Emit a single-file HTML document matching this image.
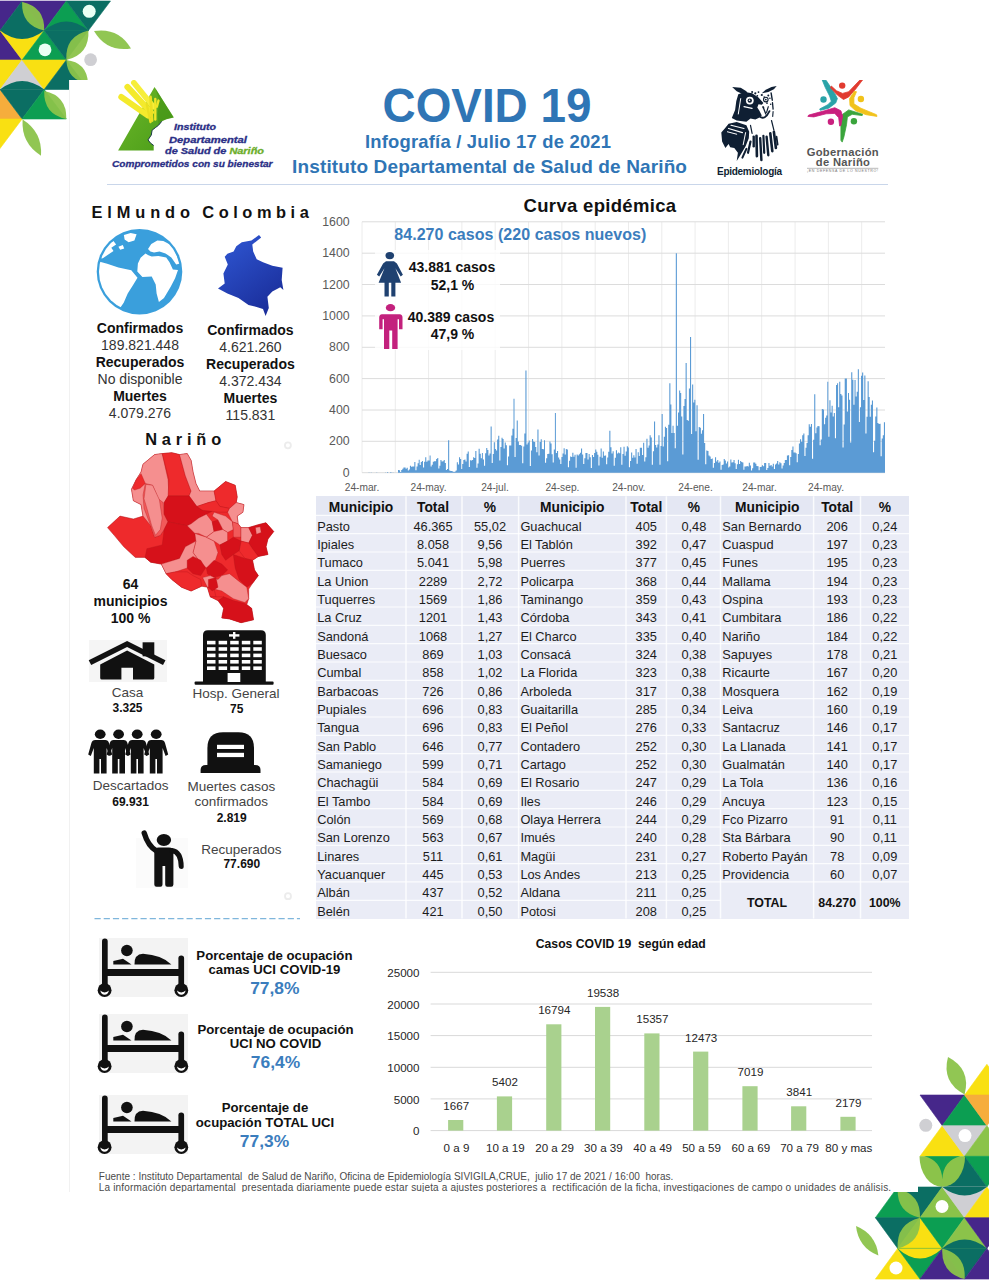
<!DOCTYPE html>
<html lang="es"><head><meta charset="utf-8"><title>COVID 19 - Infografía Nariño</title>
<style>
html,body{margin:0;padding:0}
body{width:989px;height:1280px;position:relative;overflow:hidden;background:#fff;font-family:"Liberation Sans",sans-serif;color:#222}
.deco{position:absolute;left:0;top:0}
.card{position:absolute;left:70px;top:80px;width:848px;height:1112px;background:#fff;overflow:hidden;box-shadow:-1px 0 0 #f1f1f1}
.in{position:absolute;left:-70px;top:-80px;width:989px;height:1280px}
.abs{position:absolute}
.t{position:absolute;white-space:nowrap;line-height:1}

</style></head><body>
<svg class="deco" width="989" height="1280" viewBox="0 0 989 1280">
<polygon points="-22.1,1 22.1,1 0,30.5" fill="#46278a" stroke="#46278a" stroke-width=".6" stroke-linejoin="round"/>
<polygon points="22.1,1 0,30.5 44.2,30.5" fill="#0b6e63" stroke="#0b6e63" stroke-width=".6" stroke-linejoin="round"/>
<polygon points="22.1,1 66.3,1 44.2,30.5" fill="#46278a" stroke="#46278a" stroke-width=".6" stroke-linejoin="round"/>
<polygon points="66.3,1 44.2,30.5 88.4,30.5" fill="#0c9e52" stroke="#0c9e52" stroke-width=".6" stroke-linejoin="round"/>
<polygon points="66.3,1 110.5,1 88.4,30.5" fill="#0b6e63" stroke="#0b6e63" stroke-width=".6" stroke-linejoin="round"/>
<polygon points="0,30.5 -22.1,60 22.1,60" fill="#46278a" stroke="#46278a" stroke-width=".6" stroke-linejoin="round"/>
<polygon points="0,30.5 44.2,30.5 22.1,60" fill="#f9e012" stroke="#f9e012" stroke-width=".6" stroke-linejoin="round"/>
<polygon points="44.2,30.5 22.1,60 66.3,60" fill="#0c9e52" stroke="#0c9e52" stroke-width=".6" stroke-linejoin="round"/>
<polygon points="44.2,30.5 88.4,30.5 66.3,60" fill="#0b6e63" stroke="#0b6e63" stroke-width=".6" stroke-linejoin="round"/>
<polygon points="-22.1,60 22.1,60 0,89.5" fill="#f9e012" stroke="#f9e012" stroke-width=".6" stroke-linejoin="round"/>
<polygon points="22.1,60 0,89.5 44.2,89.5" fill="#cfcfd3" stroke="#cfcfd3" stroke-width=".6" stroke-linejoin="round"/>
<polygon points="22.1,60 66.3,60 44.2,89.5" fill="#f9e012" stroke="#f9e012" stroke-width=".6" stroke-linejoin="round"/>
<polygon points="66.3,60 44.2,89.5 88.4,89.5" fill="#0b6e63" stroke="#0b6e63" stroke-width=".6" stroke-linejoin="round"/>
<polygon points="0,89.5 -22.1,119 22.1,119" fill="#f6ad3c" stroke="#f6ad3c" stroke-width=".6" stroke-linejoin="round"/>
<polygon points="0,89.5 44.2,89.5 22.1,119" fill="#0b6e63" stroke="#0b6e63" stroke-width=".6" stroke-linejoin="round"/>
<polygon points="44.2,89.5 22.1,119 66.3,119" fill="#0c9e52" stroke="#0c9e52" stroke-width=".6" stroke-linejoin="round"/>
<polygon points="-22.1,119 22.1,119 0,148.5" fill="#f9e012" stroke="#f9e012" stroke-width=".6" stroke-linejoin="round"/>
<path d="M0,29.9 L0,30.5 Q22.1,47.5 44.2,30.5 L44.2,29.9Z" fill="#0b6e63"/>
<path d="M44.2,30.5 Q66.3,12.5 88.4,30.5Z" fill="#0b6e63"/>
<path d="M0,89.5 Q22.1,72.5 44.2,89.5Z" fill="#0b6e63"/>
<circle cx="89.2" cy="11.3" r="6.5" fill="#eafff4"/>
<circle cx="45" cy="49.8" r="6.4" fill="#eafff4"/>
<circle cx="90.6" cy="59.7" r="6.4" fill="#cfcfd3"/>
<path d="M22.1,2 Q21.2,25.5 44.2,30.5 Q45.1,7 22.1,2Z" fill="#8bc34a" opacity="0.95"/>
<path d="M66.3,60 Q89.7,54.5 88.4,30.5 Q65,36 66.3,60Z" fill="#8bc34a" opacity="0.95"/>
<path d="M66.3,60 Q67.5,80.6 88,83 Q86.8,62.4 66.3,60Z" fill="#8bc34a" opacity="0.95"/>
<path d="M94,31 Q106.5,52.3 131,48.5 Q118.5,27.2 94,31Z" fill="#8bc34a" opacity="0.95"/>
<path d="M44.2,91 Q43.5,114.3 66.3,119 Q67,95.7 44.2,91Z" fill="#8bc34a" opacity="0.95"/>
<path d="M22.6,119.6 Q21,143.2 41,155.7 Q42.6,132.1 22.6,119.6Z" fill="#8bc34a" opacity="0.95"/>
<polygon points="986.9,1064.3 964.6,1095 1009.2,1095" fill="#f9e012" stroke="#f9e012" stroke-width=".6" stroke-linejoin="round"/>
<polygon points="920,1095 964.6,1095 942.3,1125.7" fill="#46278a" stroke="#46278a" stroke-width=".6" stroke-linejoin="round"/>
<polygon points="964.6,1095 942.3,1125.7 986.9,1125.7" fill="#0c9e52" stroke="#0c9e52" stroke-width=".6" stroke-linejoin="round"/>
<polygon points="964.6,1095 1009.2,1095 986.9,1125.7" fill="#f6ad3c" stroke="#f6ad3c" stroke-width=".6" stroke-linejoin="round"/>
<polygon points="942.3,1125.7 920,1156.3 964.6,1156.3" fill="#f9e012" stroke="#f9e012" stroke-width=".6" stroke-linejoin="round"/>
<polygon points="942.3,1125.7 986.9,1125.7 964.6,1156.3" fill="#cfcfd3" stroke="#cfcfd3" stroke-width=".6" stroke-linejoin="round"/>
<polygon points="986.9,1125.7 964.6,1156.3 1009.2,1156.3" fill="#8bc34a" stroke="#8bc34a" stroke-width=".6" stroke-linejoin="round"/>
<polygon points="964.6,1156.3 1009.2,1156.3 986.9,1187" fill="#0c9e52" stroke="#0c9e52" stroke-width=".6" stroke-linejoin="round"/>
<polygon points="964.6,1156.3 942.3,1187 986.9,1187" fill="#0b6e63" stroke="#0b6e63" stroke-width=".6" stroke-linejoin="round"/>
<path d="M942.3,1187 Q964.6,1205 986.9,1187Z" fill="#0b6e63"/>
<path d="M919.5,1156.3 A22.8,30.7 0 0 0 965.1,1156.3Z" fill="#8bc34a"/>
<path d="M924.3,1156.3 Q941.3,1160.3 942.3,1179.3 Q943.3,1160.3 960.3,1156.3Z" fill="#0c9e52"/>
<polygon points="897.7,1187 875.4,1217.7 920,1217.7" fill="#0c9e52" stroke="#0c9e52" stroke-width=".6" stroke-linejoin="round"/>
<polygon points="897.7,1187 942.3,1187 920,1217.7" fill="#0b6e63" stroke="#0b6e63" stroke-width=".6" stroke-linejoin="round"/>
<polygon points="942.3,1187 920,1217.7 964.6,1217.7" fill="#8bc34a" stroke="#8bc34a" stroke-width=".6" stroke-linejoin="round"/>
<polygon points="942.3,1187 986.9,1187 964.6,1217.7" fill="#cfcfd3" stroke="#cfcfd3" stroke-width=".6" stroke-linejoin="round"/>
<polygon points="986.9,1187 964.6,1217.7 1009.2,1217.7" fill="#f9e012" stroke="#f9e012" stroke-width=".6" stroke-linejoin="round"/>
<path d="M942.3,1187 Q964.6,1204 986.9,1187Z" fill="#0b6e63"/>
<polygon points="875.4,1217.7 920,1217.7 897.7,1248.4" fill="#0b6e63" stroke="#0b6e63" stroke-width=".6" stroke-linejoin="round"/>
<polygon points="920,1217.7 897.7,1248.4 942.3,1248.4" fill="#f9e012" stroke="#f9e012" stroke-width=".6" stroke-linejoin="round"/>
<polygon points="920,1217.7 964.6,1217.7 942.3,1248.4" fill="#0c9e52" stroke="#0c9e52" stroke-width=".6" stroke-linejoin="round"/>
<polygon points="964.6,1217.7 942.3,1248.4 986.9,1248.4" fill="#8bc34a" stroke="#8bc34a" stroke-width=".6" stroke-linejoin="round"/>
<polygon points="964.6,1217.7 1009.2,1217.7 986.9,1248.4" fill="#46278a" stroke="#46278a" stroke-width=".6" stroke-linejoin="round"/>
<polygon points="897.7,1248.4 875.4,1279.1 920,1279.1" fill="#f9e012" stroke="#f9e012" stroke-width=".6" stroke-linejoin="round"/>
<polygon points="897.7,1248.4 942.3,1248.4 920,1279.1" fill="#0c9e52" stroke="#0c9e52" stroke-width=".6" stroke-linejoin="round"/>
<polygon points="942.3,1248.4 920,1279.1 964.6,1279.1" fill="#46278a" stroke="#46278a" stroke-width=".6" stroke-linejoin="round"/>
<polygon points="942.3,1248.4 986.9,1248.4 964.6,1279.1" fill="#0b6e63" stroke="#0b6e63" stroke-width=".6" stroke-linejoin="round"/>
<polygon points="986.9,1248.4 964.6,1279.1 1009.2,1279.1" fill="#46278a" stroke="#46278a" stroke-width=".6" stroke-linejoin="round"/>
<path d="M897.7,1248.4 Q920,1268.4 942.3,1248.4Z" fill="#f9e012"/>
<path d="M942.3,1248.4 Q964.6,1230.4 986.9,1248.4Z" fill="#0b6e63"/>
<circle cx="965" cy="1135.6" r="6.5" fill="#fff"/>
<circle cx="942" cy="1206.5" r="6.5" fill="#fff"/>
<circle cx="896" cy="1268" r="6.5" fill="#fff"/>
<circle cx="925.8" cy="1125.3" r="6.5" fill="#cfcfd3"/>
<path d="M964.6,1094.4 Q971.3,1069.1 948,1057 Q941.3,1082.3 964.6,1094.4Z" fill="#8bc34a" opacity="0.95"/>
<path d="M856,1226 Q858.3,1247.5 878.4,1255.6 Q876.1,1234.1 856,1226Z" fill="#8bc34a" opacity="0.95"/>
<path d="M897.7,1189 Q896.8,1212.7 920,1217.7 Q920.9,1194 897.7,1189Z" fill="#8bc34a" opacity="0.95"/>
<path d="M920,1217.7 Q896,1223.7 897.7,1248.4 Q921.7,1242.4 920,1217.7Z" fill="#8bc34a" opacity="0.95"/>
<path d="M942.3,1248.4 Q940.6,1273.1 964.6,1279.1 Q966.3,1254.4 942.3,1248.4Z" fill="#8bc34a" opacity="0.95"/>
</svg>
<div class="card"><div class="in">
<!-- header -->
<svg class="abs" style="left:0;top:0" width="300" height="180" viewBox="0 0 300 180">
<defs><linearGradient id="gT" x1="0" y1="0" x2="1" y2="1"><stop offset="0" stop-color="#6db82a"/><stop offset="1" stop-color="#4a9c18"/></linearGradient></defs>
<polygon points="154.5,86.9 173.9,117.6 166.6,119.2 161.8,121.3 158.5,125.3 155.3,127.7 152.1,130.2 151.3,135 148,139.9 150.5,143.1 153.7,145.5 153.7,150.4 118.1,150.4" fill="url(#gT)"/>
<polygon points="155.3,88.1 173.1,117.2 166.6,118.8 161.8,120.9 158.5,124.9 157.7,114 159.4,101" fill="#3f8f14" opacity=".55"/>
<polyline points="161.8,121.3 158.5,125.3 155.3,127.7 152.1,130.2 151.3,135 148,139.9 150.5,143.1 153.7,145.5" fill="none" stroke="#1d3a4a" stroke-width="1"/>
<line x1="121.3" y1="97" x2="148" y2="115.6" stroke="#f4ea2c" stroke-width="6" stroke-linecap="round"/>
<line x1="127.4" y1="86.9" x2="150.9" y2="112.4" stroke="#f4ea2c" stroke-width="6" stroke-linecap="round"/>
<line x1="133.9" y1="82.8" x2="153.3" y2="106.7" stroke="#f6ee3a" stroke-width="5.7" stroke-linecap="round"/>
<line x1="150.5" y1="97" x2="152.1" y2="120.5" stroke="#ebe022" stroke-width="2.8" stroke-linecap="round"/>
<line x1="146.8" y1="104.3" x2="150.5" y2="122.1" stroke="#ebe022" stroke-width="2.4" stroke-linecap="round"/>
<line x1="155.3" y1="99" x2="155.3" y2="119.6" stroke="#f0e628" stroke-width="2.4" stroke-linecap="round"/>
<line x1="158.5" y1="100.6" x2="156.8" y2="106.7" stroke="#f0e628" stroke-width="2.4" stroke-linecap="round"/>
</svg>
<div class="t" style="left:174px;top:128px;font-size:8.2px;transform:translate(0,-50%) scaleX(1.300);font-weight:700;color:#2b2f86;font-style:italic;-webkit-text-stroke:.3px #2b2f86;transform-origin:0 50%;">Instituto</div>
<div class="t" style="left:169px;top:139.5px;font-size:8.6px;transform:translate(0,-50%) scaleX(1.306);font-weight:700;color:#2b2f86;font-style:italic;-webkit-text-stroke:.3px #2b2f86;transform-origin:0 50%;">Departamental</div>
<div class="t" style="left:165px;top:150.7px;font-size:8.6px;transform:translate(0,-50%) scaleX(1.272);font-weight:700;color:#2b2f86;font-style:italic;-webkit-text-stroke:.3px #2b2f86;transform-origin:0 50%;">de Salud de <span style="color:#6cae2c;-webkit-text-stroke-color:#6cae2c">Nariño</span></div>
<div class="t" style="left:111.5px;top:163.5px;font-size:9.6px;transform:translate(0,-50%) scaleX(1.053);font-weight:700;color:#2b2f86;font-style:italic;-webkit-text-stroke:.3px #2b2f86;transform-origin:0 50%;">Comprometidos con su bienestar</div>
<svg class="abs" style="left:0;top:0" width="989" height="190" viewBox="0 0 989 190">
<g fill="#0f1f33">
<polygon points="732.2,87.1 740.7,87.7 746.4,91.3 748.8,95.4 742.4,93.9 736.7,91.3"/>
<polygon points="776.7,86.1 771.5,86.9 765.8,89.7 761.8,93.3 768.3,92.1 773.9,89.3"/>
<polygon points="738.3,94.2 744.8,92.1 752.1,93.3 758.5,97.4 763.4,103.1 761.8,104.7 758.5,104.3 757.3,107.5 759.4,110.7 761.8,115.6 758.5,118 755.3,119.6 750.5,118.4 746.4,121.7 736.7,120.5 731.8,118 735.1,109.9 736.3,101"/>
<polygon points="721.3,132.6 725.4,127.7 728.6,123.7 736.7,122.1 746.4,125.3 749.2,131.8 748.8,138.3 745.6,146.3 740.7,154.4 736.7,160.9 737.9,152.8 734.3,148 730.2,147.2 728.6,143.9 725.4,148 722.1,141.5"/>
<circle cx="752.1" cy="92.1" r="1.0"/>
<circle cx="755.3" cy="93.3" r="1.1"/>
<circle cx="758.5" cy="92.1" r="0.9"/>
<circle cx="761.8" cy="95" r="1.1"/>
<circle cx="757.3" cy="95.8" r="0.9"/>
<circle cx="764.2" cy="97" r="0.8"/>
<circle cx="768.3" cy="95.4" r="1.0"/>
<circle cx="769.9" cy="98.2" r="0.8"/>
<circle cx="767" cy="103.1" r="0.9"/>
<circle cx="770.7" cy="104.3" r="0.8"/>
<circle cx="763.4" cy="107.5" r="0.9"/>
</g>
<circle cx="749.8" cy="100.6" r="3.9" fill="#fff"/>
<circle cx="749.8" cy="100.6" r="2.2" fill="#0f1f33"/>
<circle cx="749.5" cy="100.2" r="0.8" fill="#fff"/>
<g stroke="#fff" stroke-linecap="round" fill="none">
<line x1="740.7" y1="98.6" x2="738.3" y2="114" stroke-width="1.0"/>
<line x1="744" y1="106.7" x2="752.1" y2="108.3" stroke-width="1.2"/>
<line x1="728.6" y1="128.5" x2="742.4" y2="132.6" stroke-width="1.3"/>
<line x1="727.4" y1="131.8" x2="736.7" y2="134.2" stroke-width="1.0"/>
<line x1="731" y1="125.3" x2="744" y2="128.5" stroke-width="1.1"/>
<line x1="745.6" y1="132.6" x2="743.2" y2="144.7" stroke-width="1.0"/>
</g>
<circle cx="765.8" cy="99.6" r="2.3" fill="none" stroke="#0f1f33" stroke-width="1.1"/>
<circle cx="765.8" cy="99.6" r="0.9" fill="#0f1f33"/>
<path d="M759.5,116.6 Q765,120.5 769.5,111.1" fill="none" stroke="#0f1f33" stroke-width="1.8" stroke-linecap="round"/>
<g stroke="#0f1f33" stroke-linecap="round" fill="none">
<line x1="771.1" y1="92.9" x2="772.3" y2="100.2" stroke-width="1.4"/>
<line x1="772.5" y1="102.7" x2="773.1" y2="109.1" stroke-width="1.3"/>
<line x1="773.1" y1="111.6" x2="772.7" y2="116.4" stroke-width="1.1"/>
<line x1="768.3" y1="106.7" x2="766.6" y2="112.4" stroke-width="1.2"/>
<line x1="763" y1="106.7" x2="765.8" y2="114" stroke-width="1.3"/>
<line x1="753.7" y1="136.6" x2="753.7" y2="146.3" stroke-width="2.4"/>
<line x1="756.5" y1="135.8" x2="756.9" y2="156.1" stroke-width="2.6"/>
<line x1="760.2" y1="138.3" x2="761.4" y2="160.1" stroke-width="2.4"/>
<line x1="763.4" y1="135.8" x2="764.2" y2="152.8" stroke-width="2.2"/>
<line x1="766.6" y1="136.6" x2="768.3" y2="155.2" stroke-width="2.4"/>
<line x1="770.3" y1="133.4" x2="772.3" y2="151.2" stroke-width="2.6"/>
<line x1="773.9" y1="131.8" x2="775.9" y2="148" stroke-width="2.6"/>
<line x1="776.5" y1="136.6" x2="777.6" y2="144.7" stroke-width="1.8"/>
<line x1="750.5" y1="141.5" x2="748" y2="152.8" stroke-width="2.2"/>
<line x1="746.4" y1="148.8" x2="742.4" y2="157.7" stroke-width="2.0"/>
<line x1="771.5" y1="120.5" x2="773.9" y2="130.2" stroke-width="1.2"/>
<line x1="750.5" y1="125.3" x2="752.1" y2="133.4" stroke-width="1.2"/>
</g></svg>
<div class="t" style="left:749.4px;top:171.5px;font-size:10px;transform:translate(-50%,-50%);font-weight:700;color:#0f1f33;letter-spacing:-0.28px;">Epidemiología</div>
<svg class="abs" style="left:0;top:0" width="989" height="190" viewBox="0 0 989 190">
<polygon points="822.2,79.9 826.1,80.3 834.8,93.4 837.4,98.6 835.7,103 828.7,108.2 820.4,110.3 819.6,109 827.8,104.7 831.3,101.2 829.6,96 825.2,87.3" fill="#2aa3a8" stroke="#2aa3a8" stroke-width="0.8" stroke-linejoin="round"/>
<polygon points="862.6,79.9 860,79.9 848.7,91.7 842.6,93.4 836.5,90.8 831.3,86 830.4,87.7 837.4,95.1 843.5,99.5 848.7,96.9 855.7,89" fill="#e13b30" stroke="#e13b30" stroke-width="0.8" stroke-linejoin="round"/>
<polygon points="877,116.4 876.5,114.7 860.9,108.2 853.9,103.8 853.9,97.7 856.5,91.7 854.3,91.2 849.6,98.6 850,105.6 855.7,110.8 866.1,114.7" fill="#f1c21b" stroke="#f1c21b" stroke-width="0.8" stroke-linejoin="round"/>
<polygon points="842.2,142.1 840.9,140.3 840.9,124.7 842.6,114.3 848.7,109.9 862.6,114.3 862.2,115.6 852.2,114.3 847.4,116.9 846.5,124.7 843.9,136.9" fill="#3aa43c" stroke="#3aa43c" stroke-width="0.8" stroke-linejoin="round"/>
<polygon points="807.8,116.4 808.7,115.1 824.3,110.8 834.8,107.7 840.9,110.8 842.6,116 840.9,125.6 839.6,126 838.7,117.7 834.8,113.4 826.1,113.8 813.9,116.9" fill="#c9207e" stroke="#c9207e" stroke-width="0.8" stroke-linejoin="round"/>
<circle cx="842.2" cy="85.6" r="3.2" fill="#e13b30"/>
<circle cx="860.9" cy="99" r="3.2" fill="#f1c21b"/>
<circle cx="853.9" cy="121.2" r="3.2" fill="#3aa43c"/>
<circle cx="830.9" cy="121.7" r="3.2" fill="#c9207e"/>
<circle cx="823.5" cy="99.5" r="3.2" fill="#2aa3a8"/>
<line x1="807" y1="168.3" x2="878.3" y2="168.3" stroke="#8a8a8a" stroke-width="0.6"/>
</svg>
<div class="t" style="left:842.8px;top:153px;font-size:11.2px;transform:translate(-50%,-50%);font-weight:700;color:#555;letter-spacing:0.3px;">Gobernación</div>
<div class="t" style="left:843px;top:163.2px;font-size:11.2px;transform:translate(-50%,-50%);font-weight:700;color:#555;letter-spacing:0.32px;">de Nariño</div>
<div class="t" style="left:842.8px;top:171.8px;font-size:3.6px;transform:translate(-50%,-50%);color:#777;letter-spacing:0.63px;">¡EN DEFENSA DE LO NUESTRO!</div>
<div class="t" style="left:487.2px;top:105.5px;font-size:47.8px;transform:translate(-50%,-50%) scaleX(0.959);font-weight:700;color:#2f75b5;">COVID 19</div>
<div class="t" style="left:488.1px;top:142.2px;font-size:18.4px;transform:translate(-50%,-50%);font-weight:700;color:#2f75b5;letter-spacing:0.21px;">Infografía / Julio 17 de 2021</div>
<div class="t" style="left:489.6px;top:166px;font-size:19px;transform:translate(-50%,-50%);font-weight:700;color:#2f75b5;letter-spacing:0.13px;">Instituto Departamental de Salud de Nariño</div>
<div class="abs" style="left:107px;top:183.5px;width:781px;height:1.4px;background:#c9d6ea"></div>
<!-- left -->
<div class="t" style="left:91.5px;top:211.5px;font-size:16.4px;transform:translate(0,-50%);font-weight:700;color:#111;letter-spacing:4.88px;">ElMundo</div>
<div class="t" style="left:202.3px;top:211.5px;font-size:16.4px;transform:translate(0,-50%);font-weight:700;color:#111;letter-spacing:4.55px;">Colombia</div>
<svg class="abs" style="left:0;top:0" width="320" height="330" viewBox="0 0 320 330">
<defs><clipPath id="gc"><circle cx="139.5" cy="271.7" r="40.5"/></clipPath></defs>
<circle cx="139.5" cy="271.7" r="42.8" fill="#3a9fdc"/>
<g clip-path="url(#gc)" fill="#fff">
<polygon points="145.5,253.4 140.6,257.8 137.9,263.4 137.3,271.6 142.4,277 151.7,276.5 155.7,284.5 156.6,293.4 158.9,301.9 164,297.9 170.7,286.7 175.1,278.3 178,270.1 172.9,269.4 169.5,262.3 166.2,257.4 158.4,256 151.7,256.5 148.4,255.2"/>
<polygon points="148,248.9 151.3,244 157.3,240.5 163.3,241.1 170,244.5 174.4,250 176.7,255.6 180.2,263.4 176.2,264.5 171.3,257.4 165.5,253.4 159.5,251.6 154,252.5 150.4,251.6"/>
<polygon points="91.7,260.5 98.8,261.4 107.2,263.8 118.4,267.6 131.3,270.3 137.5,277.8 133.1,285 127.7,293.4 123.7,302.8 120.6,307.2 107.2,309 91.7,293.4"/>
<polygon points="98.8,258.9 103.9,251.1 109,243.6 113.5,241.1 116.1,244.5 111.3,247.8 113.5,251.1 107.2,255.2 102.8,258.3"/>
<polygon points="123.9,235.1 130.6,232.9 136.6,234.2 134.4,240.5 128.6,242.2 124.6,239.6"/>
<polygon points="118.4,246.7 122.8,244.9 124.2,248.5 120.2,249.8"/>
</g></svg>
<svg class="abs" style="left:0;top:0" width="320" height="330" viewBox="0 0 320 330">
<defs><linearGradient id="gC" x1="0" y1="0" x2="0.6" y2="1"><stop offset="0" stop-color="#3059d6"/><stop offset="1" stop-color="#1b2f9c"/></linearGradient></defs>
<polygon points="259,235.1 251.4,240.5 241.8,242.2 236.3,246.3 233.6,251.6 227.4,253.8 224.7,256.7 227.8,264.5 223.4,273.4 224.7,283.4 218,288.5 227.4,293.4 238.5,297.9 248.5,305 257.4,307.2 263,309 265.6,316.1 268.8,307.9 267.4,296.8 272.3,291.6 280.3,287.2 283.4,290.1 281.7,280.1 282.6,267.8 272.3,265.8 263,262.3 256.7,259.2 253.2,251.6 252.3,244.5 261.2,237.4" fill="url(#gC)"/>
</svg>
<div class="t" style="left:140px;top:327.8px;font-size:14px;transform:translate(-50%,-50%);font-weight:700;color:#111;">Confirmados</div>
<div class="t" style="left:140px;top:344.7px;font-size:14px;transform:translate(-50%,-50%);color:#333;">189.821.448</div>
<div class="t" style="left:140px;top:361.9px;font-size:14px;transform:translate(-50%,-50%);font-weight:700;color:#111;">Recuperados</div>
<div class="t" style="left:140px;top:379px;font-size:14px;transform:translate(-50%,-50%);color:#333;">No disponible</div>
<div class="t" style="left:140px;top:396px;font-size:14px;transform:translate(-50%,-50%);font-weight:700;color:#111;">Muertes</div>
<div class="t" style="left:140px;top:413px;font-size:14px;transform:translate(-50%,-50%);color:#333;">4.079.276</div>
<div class="t" style="left:250.4px;top:329.8px;font-size:14px;transform:translate(-50%,-50%);font-weight:700;color:#111;">Confirmados</div>
<div class="t" style="left:250.4px;top:346.7px;font-size:14px;transform:translate(-50%,-50%);color:#333;">4.621.260</div>
<div class="t" style="left:250.4px;top:364px;font-size:14px;transform:translate(-50%,-50%);font-weight:700;color:#111;">Recuperados</div>
<div class="t" style="left:250.4px;top:381.4px;font-size:14px;transform:translate(-50%,-50%);color:#333;">4.372.434</div>
<div class="t" style="left:250.4px;top:397.8px;font-size:14px;transform:translate(-50%,-50%);font-weight:700;color:#111;">Muertes</div>
<div class="t" style="left:250.4px;top:415px;font-size:14px;transform:translate(-50%,-50%);color:#333;">115.831</div>
<div class="t" style="left:145.2px;top:438.5px;font-size:16.4px;transform:translate(0,-50%);font-weight:700;color:#111;letter-spacing:4.82px;">Nariño</div>
<svg class="abs" style="left:0;top:0" width="300" height="640" viewBox="0 0 300 640">
<polygon points="143,464.2 154.6,454.6 162.2,453.6 171.8,452.7 179.5,454.6 187.2,453.6 191.1,460.4 193,471.9 195.9,483.4 199.7,491.1 214.1,491.1 225.6,481.5 235.2,485.3 237.2,496.9 236.2,502.6 243.9,504.6 242.9,512.2 237.2,516.1 238.1,523.8 241,527.6 248.7,527.6 258.3,524.7 266,522.8 273.7,531.5 267.9,539.1 266,546.8 267.9,554.5 258.3,556.4 252.5,560.3 254.5,569.9 258.3,575.6 252.5,583.3 248.7,589.1 248.7,598.7 246.8,604.5 251.6,608.3 253.5,619.8 241,622.7 229.5,618.9 221.8,617.9 223.7,608.3 218,600.6 210.3,596.8 207.4,587.2 201.6,586.2 191.1,591 181.5,587.2 171.8,579.5 166.1,573.7 161.3,564.1 150.7,562.2 145,557.4 135.3,557.4 123.8,546.8 114.2,535.3 107.5,527.6 120,516.1 133.4,519 143,516.1 141.1,504.6 133.4,500.7 131.5,489.2 136.3,479.6 141.1,471.9" fill="#ee2a2c" stroke="#b01016" stroke-width="0.5"/>
<polygon points="143,464.2 154.6,454.6 162.2,453.6 168,479.6 169,495 164.2,502.6 164.2,514.2 168,521.8 164.2,529.5 160.3,535.3 154.6,537.2 150.7,525.7 143,516.1 141.1,504.6 133.4,500.7 131.5,489.2 136.3,479.6 141.1,471.9" fill="#f58f8f" stroke="#b3131a" stroke-width="0.35"/>
<polygon points="132.5,488.2 136.3,479.6 141.1,473.8 145.3,483.4 140.1,488.2 134.4,490.1" fill="#ee2a2c" stroke="#b3131a" stroke-width="0.35"/>
<polygon points="145.3,483.4 152.6,485.3 158.4,498.8 163.2,502.6 164.2,514.2 168,521.8 164.2,529.5 160.3,535.3 154.6,537.2 150.7,525.7 144,508.4 143,495" fill="#f25a5a" stroke="#b3131a" stroke-width="0.35"/>
<polygon points="145.9,484.4 152.6,485.3 159.4,499.8 162.2,518 160.3,529.5 155.5,535.3 151.7,525.7 146.9,508.4 144,498.8" fill="#f58f8f" stroke="#b3131a" stroke-width="0.35"/>
<polygon points="162.2,453.6 171.8,452.7 179.5,454.6 185.3,475.7 191.1,491.1 189.1,495.9 168,495.9 169,479.6" fill="#ee2a2c" stroke="#b3131a" stroke-width="0.35"/>
<polygon points="179.5,454.6 187.2,453.6 191.1,460.4 193,471.9 195.9,483.4 199.7,491.1 214.1,491.1 216,500.7 208.4,502.6 196.8,506.5 189.1,495.9 191.1,491.1 185.3,475.7" fill="#f58f8f" stroke="#b3131a" stroke-width="0.35"/>
<polygon points="214.1,491.1 225.6,481.5 235.2,485.3 237.2,496.9 236.2,502.6 229.5,508.4 219.9,506.5 216,500.7" fill="#ee2a2c" stroke="#b3131a" stroke-width="0.35"/>
<polygon points="164.2,502.6 168,495.9 189.1,495.9 196.8,506.5 202.6,510.3 212.2,511.3 198.7,518 191.1,523.8 187.2,525.7 168,521.8 164.2,514.2" fill="#d6111a" stroke="#b3131a" stroke-width="0.35"/>
<polygon points="168,521.8 187.2,525.7 194.9,533.4 195.9,541.1 185.3,546.8 179.5,558.4 161.3,564.1 150.7,562.2 145,557.4 146.9,548.7 162.2,544.9 164.2,529.5" fill="#d6111a" stroke="#b3131a" stroke-width="0.35"/>
<polygon points="196.8,506.5 208.4,502.6 216,500.7 219.9,506.5 229.5,508.4 227.6,512.2 218,512.2 212.2,511.3 202.6,510.3" fill="#ee2a2c" stroke="#b3131a" stroke-width="0.35"/>
<polygon points="229.5,508.4 236.2,502.6 243.9,504.6 242.9,512.2 237.2,516.1 238.1,523.8 232.4,521.8 227.6,512.2" fill="#f58f8f" stroke="#b3131a" stroke-width="0.35"/>
<polygon points="191.1,523.8 198.7,518 206.4,514.2 212.2,521.8 214.1,531.5 206.4,537.2 198.7,533.4 194.9,533.4 187.2,525.7" fill="#f58f8f" stroke="#b3131a" stroke-width="0.35"/>
<polygon points="212.2,521.8 218,519.9 222.8,529.5 218,532.4 214.1,531.5" fill="#d6111a" stroke="#b3131a" stroke-width="0.35"/>
<polygon points="214.1,512.2 225.6,516.1 232.4,521.8 233.3,529.5 227.6,532.4 222.8,529.5 218,519.9 212.2,516.1" fill="#f58f8f" stroke="#b3131a" stroke-width="0.35"/>
<polygon points="232.4,521.8 238.1,523.8 241,527.6 241,537.2 233.3,537.2 233.3,529.5" fill="#f25a5a" stroke="#b3131a" stroke-width="0.35"/>
<polygon points="195.9,541.1 194.9,533.4 206.4,537.2 214.1,541.1 218,552.6 214.1,564.1 206.4,568 198.7,560.3 193,552.6" fill="#f58f8f" stroke="#b3131a" stroke-width="0.35"/>
<polygon points="214.1,531.5 222.8,529.5 227.6,532.4 227.6,541.1 219.9,544.9 214.1,541.1 206.4,537.2" fill="#f58f8f" stroke="#b3131a" stroke-width="0.35"/>
<polygon points="241,527.6 248.7,527.6 252.5,535.3 248.7,543 241,541.1 241,537.2" fill="#f58f8f" stroke="#b3131a" stroke-width="0.35"/>
<polygon points="248.7,527.6 258.3,524.7 266,522.8 273.7,531.5 267.9,539.1 266,546.8 267.9,554.5 258.3,556.4 252.5,548.7 248.7,543 252.5,535.3" fill="#d6111a" stroke="#b3131a" stroke-width="0.35"/>
<polygon points="255.4,527.6 260.2,526.7 261.2,532.4 256.4,534.3" fill="#f58f8f" stroke="#b3131a" stroke-width="0.35"/>
<polygon points="241,541.1 248.7,543 252.5,548.7 258.3,556.4 252.5,560.3 244.9,558.4 239.1,550.7" fill="#ee2a2c" stroke="#b3131a" stroke-width="0.35"/>
<polygon points="161.3,564.1 179.5,558.4 185.3,546.8 195.9,541.1 193,552.6 198.7,560.3 187.2,568 175.7,571.8 166.1,573.7" fill="#f58f8f" stroke="#b3131a" stroke-width="0.35"/>
<polygon points="187.2,560.3 193,556.4 200.7,560.3 205.5,568 200.7,575.6 193,573.7 187.2,568" fill="#d6111a" stroke="#b3131a" stroke-width="0.35"/>
<polygon points="166.1,573.7 175.7,571.8 187.2,571.8 193,575.6 200.7,579.5 201.6,586.2 191.1,591 181.5,587.2 171.8,579.5" fill="#ee2a2c" stroke="#b3131a" stroke-width="0.35"/>
<polygon points="219.9,544.9 227.6,541.1 233.3,537.2 241,541.1 239.1,550.7 233.3,554.5 225.6,560.3 221.8,554.5" fill="#d6111a" stroke="#b3131a" stroke-width="0.35"/>
<polygon points="233.3,554.5 244.9,558.4 252.5,560.3 254.5,569.9 258.3,575.6 252.5,583.3 246.8,587.2 239.1,579.5 235.2,568" fill="#d6111a" stroke="#b3131a" stroke-width="0.35"/>
<polygon points="206.4,568 214.1,560.3 221.8,564.1 227.6,569.9 221.8,575.6 212.2,577.6 207.4,573.7" fill="#d6111a" stroke="#b3131a" stroke-width="0.35"/>
<polygon points="202.6,577.6 210.3,575.6 218,579.5 221.8,575.6 229.5,573.7 239.1,581.4 246.8,587.2 248.7,598.7 244.9,602.5 233.3,598.7 221.8,591 214.1,589.1 207.4,587.2" fill="#f58f8f" stroke="#b3131a" stroke-width="0.35"/>
<polygon points="207.4,587.2 214.1,589.1 216,596.8 210.3,596.8" fill="#ee2a2c" stroke="#b3131a" stroke-width="0.35"/>
<polygon points="208.4,579.5 216,577.6 218,587.2 212.2,591 208.4,587.2" fill="#d6111a" stroke="#b3131a" stroke-width="0.35"/>
<polygon points="218,600.6 223.7,596.8 233.3,600.6 244.9,603.5 251.6,608.3 253.5,619.8 241,622.7 229.5,618.9 221.8,617.9 223.7,608.3" fill="#d6111a" stroke="#b3131a" stroke-width="0.35"/>
<polygon points="210.3,596.8 216,596.8 223.7,596.8 218,600.6" fill="#ee2a2c" stroke="#b3131a" stroke-width="0.35"/>
</svg>
<div class="t" style="left:130.5px;top:584px;font-size:14px;transform:translate(-50%,-50%);font-weight:700;color:#111;">64</div>
<div class="t" style="left:130.5px;top:600.7px;font-size:14px;transform:translate(-50%,-50%);font-weight:700;color:#111;">municipios</div>
<div class="t" style="left:130.5px;top:617.7px;font-size:14px;transform:translate(-50%,-50%);font-weight:700;color:#111;">100 %</div>
<div class="abs" style="left:88.5px;top:640px;width:78.5px;height:41.6px;background:#f5f5f5"></div>
<svg class="abs" style="left:0;top:620px" width="300" height="80" viewBox="0 620 300 80">
<g fill="#111">
<rect x="142.6" y="642.3" width="11.7" height="14"/>
<polygon points="127.1,641 165.5,660.2 163,665 127.1,647 91.2,665 88.7,660.2"/>
<path d="M127.1,650.6 L154.3,664.4 L154.3,678 Q154.3,679.6 152.7,679.6 L133,679.6 L133,667.8 L121.4,667.8 L121.4,679.6 L101.8,679.6 Q100.2,679.6 100.2,678 L100.2,664.4Z"/>
</g></svg>
<svg class="abs" style="left:0;top:620px" width="300" height="80" viewBox="0 620 300 80">
<path d="M203,682 L203,635 Q203,630.2 207.8,630.2 L261,630.2 Q265.8,630.2 265.8,635 L265.8,682Z" fill="#111"/>
<rect x="194.6" y="681.4" width="79" height="3.4" rx="1" fill="#111"/>
<g fill="#fff">
<rect x="229" y="634.2" width="10.4" height="2.4"/><rect x="233" y="632" width="2.4" height="6.8"/>
<rect x="207" y="640.8" width="8.5" height="3.6"/>
<rect x="207" y="647.2" width="8.5" height="3.6"/>
<rect x="207" y="653.6" width="8.5" height="3.6"/>
<rect x="207" y="660" width="8.5" height="3.6"/>
<rect x="207" y="666.4" width="8.5" height="3.6"/>
<rect x="218.6" y="640.8" width="8.5" height="3.6"/>
<rect x="218.6" y="647.2" width="8.5" height="3.6"/>
<rect x="218.6" y="653.6" width="8.5" height="3.6"/>
<rect x="218.6" y="660" width="8.5" height="3.6"/>
<rect x="218.6" y="666.4" width="8.5" height="3.6"/>
<rect x="230.2" y="640.8" width="8.5" height="3.6"/>
<rect x="230.2" y="647.2" width="8.5" height="3.6"/>
<rect x="230.2" y="653.6" width="8.5" height="3.6"/>
<rect x="230.2" y="660" width="8.5" height="3.6"/>
<rect x="230.2" y="666.4" width="8.5" height="3.6"/>
<rect x="241.8" y="640.8" width="8.5" height="3.6"/>
<rect x="241.8" y="647.2" width="8.5" height="3.6"/>
<rect x="241.8" y="653.6" width="8.5" height="3.6"/>
<rect x="241.8" y="660" width="8.5" height="3.6"/>
<rect x="241.8" y="666.4" width="8.5" height="3.6"/>
<rect x="253.3" y="640.8" width="8.5" height="3.6"/>
<rect x="253.3" y="647.2" width="8.5" height="3.6"/>
<rect x="253.3" y="653.6" width="8.5" height="3.6"/>
<rect x="253.3" y="660" width="8.5" height="3.6"/>
<rect x="253.3" y="666.4" width="8.5" height="3.6"/>
<rect x="227.6" y="673" width="12.7" height="9"/>
</g></svg>
<div class="t" style="left:127.5px;top:692.9px;font-size:13.5px;transform:translate(-50%,-50%);color:#444;">Casa</div>
<div class="t" style="left:127.5px;top:708px;font-size:12px;transform:translate(-50%,-50%);font-weight:700;color:#111;">3.325</div>
<div class="t" style="left:236px;top:694px;font-size:13.5px;transform:translate(-50%,-50%);color:#444;">Hosp. General</div>
<div class="t" style="left:236.7px;top:709.3px;font-size:12px;transform:translate(-50%,-50%);font-weight:700;color:#111;">75</div>
<svg class="abs" style="left:0;top:720px" width="300" height="180" viewBox="0 720 300 180">
<g fill="#111">
<ellipse cx="100.2" cy="734.3" rx="5.4" ry="4.7"/>
<path d="M95.2,739.9 L105.2,739.9 Q108.2,739.9 109,742.9 L112.2,754.4 L109.6,755.9 L106.6,747.9 L106.6,773.4 L101,773.4 L101,758.9 L99.4,758.9 L99.4,773.4 L93.8,773.4 L93.8,747.9 L90.8,755.9 L88.2,754.4 L91.4,742.9 Q92.2,739.9 95.2,739.9Z"/>
<ellipse cx="118.6" cy="734.3" rx="5.4" ry="4.7"/>
<path d="M113.6,739.9 L123.6,739.9 Q126.6,739.9 127.4,742.9 L130.6,754.4 L128,755.9 L125,747.9 L125,773.4 L119.4,773.4 L119.4,758.9 L117.8,758.9 L117.8,773.4 L112.2,773.4 L112.2,747.9 L109.2,755.9 L106.6,754.4 L109.8,742.9 Q110.6,739.9 113.6,739.9Z"/>
<ellipse cx="137.2" cy="734.3" rx="5.4" ry="4.7"/>
<path d="M132.2,739.9 L142.2,739.9 Q145.2,739.9 146,742.9 L149.2,754.4 L146.6,755.9 L143.6,747.9 L143.6,773.4 L138,773.4 L138,758.9 L136.4,758.9 L136.4,773.4 L130.8,773.4 L130.8,747.9 L127.8,755.9 L125.2,754.4 L128.4,742.9 Q129.2,739.9 132.2,739.9Z"/>
<ellipse cx="156.2" cy="734.3" rx="5.4" ry="4.7"/>
<path d="M151.2,739.9 L161.2,739.9 Q164.2,739.9 165,742.9 L168.2,754.4 L165.6,755.9 L162.6,747.9 L162.6,773.4 L157,773.4 L157,758.9 L155.4,758.9 L155.4,773.4 L149.8,773.4 L149.8,747.9 L146.8,755.9 L144.2,754.4 L147.4,742.9 Q148.2,739.9 151.2,739.9Z"/>
</g></svg>
<svg class="abs" style="left:0;top:720px" width="300" height="180" viewBox="0 720 300 180">
<path d="M207.4,766 L207.4,748 Q207.4,732.3 223,732.3 L238.4,732.3 Q254,732.3 254,748 L254,766Z" fill="#111"/>
<path d="M200.6,773 L200.6,770 Q200.6,765 206,765 L255,765 Q260.5,765 260.5,770 L260.5,773Z" fill="#111"/>
<rect x="217" y="744.8" width="27" height="4.2" fill="#fff"/><rect x="217" y="752.8" width="27" height="4.3" fill="#fff"/>
</svg>
<div class="t" style="left:130.6px;top:786.4px;font-size:13.5px;transform:translate(-50%,-50%);color:#444;">Descartados</div>
<div class="t" style="left:130.6px;top:801.5px;font-size:12px;transform:translate(-50%,-50%);font-weight:700;color:#111;">69.931</div>
<div class="t" style="left:231.3px;top:787px;font-size:13.5px;transform:translate(-50%,-50%);color:#444;">Muertes casos</div>
<div class="t" style="left:231.3px;top:802.3px;font-size:13.5px;transform:translate(-50%,-50%);color:#444;">confirmados</div>
<div class="t" style="left:231.7px;top:818px;font-size:12px;transform:translate(-50%,-50%);font-weight:700;color:#111;">2.819</div>
<div class="abs" style="left:136px;top:838px;width:52px;height:50px;background:#fbfbfb"></div>
<svg class="abs" style="left:0;top:720px" width="300" height="180" viewBox="0 720 300 180">
<g fill="#111">
<ellipse cx="163.9" cy="840" rx="7.2" ry="6"/>
<path d="M154.3,852 Q154.3,847.6 158.6,847.6 L169,847.6 Q173.4,847.6 173.4,852 L173.4,884.5 Q173.4,886.7 171.2,886.7 L167.2,886.7 Q165.2,886.7 165.2,884.5 L165.2,866 L162.5,866 L162.5,884.5 Q162.5,886.7 160.5,886.7 L156.5,886.7 Q154.3,886.7 154.3,884.5Z"/>
</g>
<path d="M156.5,851 Q148,846 144.2,833" stroke="#111" stroke-width="5.4" stroke-linecap="round" fill="none"/>
<path d="M172,850.5 Q181,852 181.2,866.5" stroke="#111" stroke-width="5" stroke-linecap="round" fill="none"/>
</svg>
<div class="t" style="left:241.4px;top:849.6px;font-size:13.5px;transform:translate(-50%,-50%);color:#444;">Recuperados</div>
<div class="t" style="left:241.8px;top:864px;font-size:12px;transform:translate(-50%,-50%);font-weight:700;color:#111;">77.690</div>
<svg class="abs" style="left:0;top:910px" width="320" height="16" viewBox="0 910 320 16"><line x1="94.5" y1="918.6" x2="300" y2="918.6" stroke="#7fb6dc" stroke-width="1.4" stroke-dasharray="6.2 3"/></svg>
<svg class="abs" style="left:270px;top:430px" width="40" height="480" viewBox="270 430 40 480"><circle cx="287.9" cy="445.3" r="3" fill="none" stroke="#ececec" stroke-width="1.8"/><circle cx="288" cy="896.2" r="3" fill="none" stroke="#ececec" stroke-width="1.8"/></svg>
<div class="abs" style="left:98.6px;top:937.7px;width:89.7px;height:59.5px;background:#f3f3f3"></div>
<svg class="abs" style="left:0;top:930px" width="300" height="75" viewBox="0 930 300 75">
<g fill="#111">
<rect x="102" y="938.6" width="5.7" height="49" rx="2.8"/>
<rect x="178.4" y="955.6" width="5.7" height="32" rx="2.8"/>
<rect x="104" y="969" width="78" height="7"/>
<circle cx="126.9" cy="950.5" r="5.8"/>
<polygon points="113.3,961 123,958.8 131.5,964.6 113.3,964.6"/>
<path d="M134.5,964.6 Q134,954.2 143,953.8 Q162,955 171.4,964.6Z"/>
</g>
<circle cx="104.6" cy="990.2" r="6.9" fill="#111"/>
<path d="M100.39999999999999,990.6 A4.2,4.2 0 0 0 108.8,990.6 A4.6,3 0 0 1 100.39999999999999,990.6Z" fill="#fff"/>
<circle cx="181.3" cy="990.2" r="6.9" fill="#111"/>
<path d="M177.10000000000002,990.6 A4.2,4.2 0 0 0 185.5,990.6 A4.6,3 0 0 1 177.10000000000002,990.6Z" fill="#fff"/>
</svg>
<div class="abs" style="left:98.6px;top:1013.7px;width:89.7px;height:59.5px;background:#f3f3f3"></div>
<svg class="abs" style="left:0;top:1006px" width="300" height="75" viewBox="0 930 300 75">
<g fill="#111">
<rect x="102" y="938.6" width="5.7" height="49" rx="2.8"/>
<rect x="178.4" y="955.6" width="5.7" height="32" rx="2.8"/>
<rect x="104" y="969" width="78" height="7"/>
<circle cx="126.9" cy="950.5" r="5.8"/>
<polygon points="113.3,961 123,958.8 131.5,964.6 113.3,964.6"/>
<path d="M134.5,964.6 Q134,954.2 143,953.8 Q162,955 171.4,964.6Z"/>
</g>
<circle cx="104.6" cy="990.2" r="6.9" fill="#111"/>
<path d="M100.39999999999999,990.6 A4.2,4.2 0 0 0 108.8,990.6 A4.6,3 0 0 1 100.39999999999999,990.6Z" fill="#fff"/>
<circle cx="181.3" cy="990.2" r="6.9" fill="#111"/>
<path d="M177.10000000000002,990.6 A4.2,4.2 0 0 0 185.5,990.6 A4.6,3 0 0 1 177.10000000000002,990.6Z" fill="#fff"/>
</svg>
<div class="abs" style="left:98.6px;top:1094.7px;width:89.7px;height:59.5px;background:#f3f3f3"></div>
<svg class="abs" style="left:0;top:1087px" width="300" height="75" viewBox="0 930 300 75">
<g fill="#111">
<rect x="102" y="938.6" width="5.7" height="49" rx="2.8"/>
<rect x="178.4" y="955.6" width="5.7" height="32" rx="2.8"/>
<rect x="104" y="969" width="78" height="7"/>
<circle cx="126.9" cy="950.5" r="5.8"/>
<polygon points="113.3,961 123,958.8 131.5,964.6 113.3,964.6"/>
<path d="M134.5,964.6 Q134,954.2 143,953.8 Q162,955 171.4,964.6Z"/>
</g>
<circle cx="104.6" cy="990.2" r="6.9" fill="#111"/>
<path d="M100.39999999999999,990.6 A4.2,4.2 0 0 0 108.8,990.6 A4.6,3 0 0 1 100.39999999999999,990.6Z" fill="#fff"/>
<circle cx="181.3" cy="990.2" r="6.9" fill="#111"/>
<path d="M177.10000000000002,990.6 A4.2,4.2 0 0 0 185.5,990.6 A4.6,3 0 0 1 177.10000000000002,990.6Z" fill="#fff"/>
</svg>
<div class="t" style="left:274.4px;top:955.5px;font-size:13.2px;transform:translate(-50%,-50%);font-weight:700;color:#111;">Porcentaje de ocupación</div>
<div class="t" style="left:274.5px;top:970.4px;font-size:13.2px;transform:translate(-50%,-50%);font-weight:700;color:#111;">camas UCI COVID-19</div>
<div class="t" style="left:274.8px;top:988.5px;font-size:17.4px;transform:translate(-50%,-50%);font-weight:700;color:#3b7dbd;">77,8%</div>
<div class="t" style="left:275.5px;top:1029.5px;font-size:13.2px;transform:translate(-50%,-50%);font-weight:700;color:#111;">Porcentaje de ocupación</div>
<div class="t" style="left:275.5px;top:1044px;font-size:13.2px;transform:translate(-50%,-50%);font-weight:700;color:#111;">UCI NO COVID</div>
<div class="t" style="left:275.5px;top:1063px;font-size:17.4px;transform:translate(-50%,-50%);font-weight:700;color:#3b7dbd;">76,4%</div>
<div class="t" style="left:265px;top:1108.4px;font-size:13.2px;transform:translate(-50%,-50%);font-weight:700;color:#111;">Porcentaje de</div>
<div class="t" style="left:265px;top:1123px;font-size:13.2px;transform:translate(-50%,-50%);font-weight:700;color:#111;">ocupación TOTAL UCI</div>
<div class="t" style="left:264.5px;top:1141.7px;font-size:17.4px;transform:translate(-50%,-50%);font-weight:700;color:#3b7dbd;">77,3%</div>
<!-- curve -->
<div class="t" style="left:600px;top:206.3px;font-size:18.5px;transform:translate(-50%,-50%);font-weight:700;color:#111;letter-spacing:0.32px;">Curva epidémica</div>
<svg class="abs" style="left:0;top:190px" width="989" height="310" viewBox="0 190 989 310">
<g stroke="#ececec" stroke-width="1">
<line x1="362" y1="221.8" x2="362" y2="472.7"/>
<line x1="395.3" y1="221.8" x2="395.3" y2="472.7"/>
<line x1="428.6" y1="221.8" x2="428.6" y2="472.7"/>
<line x1="461.9" y1="221.8" x2="461.9" y2="472.7"/>
<line x1="495.2" y1="221.8" x2="495.2" y2="472.7"/>
<line x1="528.6" y1="221.8" x2="528.6" y2="472.7"/>
<line x1="561.9" y1="221.8" x2="561.9" y2="472.7"/>
<line x1="595.2" y1="221.8" x2="595.2" y2="472.7"/>
<line x1="628.5" y1="221.8" x2="628.5" y2="472.7"/>
<line x1="661.8" y1="221.8" x2="661.8" y2="472.7"/>
<line x1="695.1" y1="221.8" x2="695.1" y2="472.7"/>
<line x1="728.4" y1="221.8" x2="728.4" y2="472.7"/>
<line x1="761.7" y1="221.8" x2="761.7" y2="472.7"/>
<line x1="795.1" y1="221.8" x2="795.1" y2="472.7"/>
<line x1="828.4" y1="221.8" x2="828.4" y2="472.7"/>
<line x1="861.7" y1="221.8" x2="861.7" y2="472.7"/>
</g><g stroke="#dcdcdc" stroke-width="1">
<line x1="362" y1="472.7" x2="885" y2="472.7"/>
<line x1="362" y1="441.3" x2="885" y2="441.3"/>
<line x1="362" y1="410" x2="885" y2="410"/>
<line x1="362" y1="378.6" x2="885" y2="378.6"/>
<line x1="362" y1="347.3" x2="885" y2="347.3"/>
<line x1="362" y1="315.9" x2="885" y2="315.9"/>
<line x1="362" y1="284.5" x2="885" y2="284.5"/>
<line x1="362" y1="253.2" x2="885" y2="253.2"/>
<line x1="362" y1="221.8" x2="885" y2="221.8"/>
</g>
<rect x="375" y="250" width="125" height="100" fill="#fff" opacity=".8"/>
<path d="M362,472.7L362.0,472.7L363.1,472.7L363.1,472.7L364.2,472.7L364.2,472.7L365.3,472.7L365.3,472.7L366.4,472.7L366.4,472.7L367.4,472.7L367.4,472.7L368.5,472.7L368.5,472.6L369.6,472.6L369.6,472.7L370.7,472.7L370.7,472.6L371.8,472.6L371.8,472.7L372.9,472.7L372.9,472.7L374.0,472.7L374.0,472.7L375.1,472.7L375.1,472.7L376.2,472.7L376.2,472.5L377.3,472.5L377.3,472.7L378.3,472.7L378.3,472.7L379.4,472.7L379.4,472.7L380.5,472.7L380.5,472.7L381.6,472.7L381.6,472.7L382.7,472.7L382.7,472.7L383.8,472.7L383.8,472.7L384.9,472.7L384.9,472.5L386.0,472.5L386.0,472.7L387.1,472.7L387.1,472.0L388.2,472.0L388.1,472.7L389.2,472.7L389.2,472.7L390.3,472.7L390.3,471.9L391.4,471.9L391.4,472.7L392.5,472.7L392.5,472.5L393.6,472.5L393.6,472.7L394.7,472.7L394.7,472.7L395.8,472.7L395.8,472.7L396.9,472.7L396.9,472.7L398.0,472.7L398.0,470.1L399.0,470.1L399.0,470.3L400.1,470.3L400.1,472.0L401.2,472.0L401.2,470.0L402.3,470.0L402.3,468.8L403.4,468.8L403.4,467.6L404.5,467.6L404.5,467.6L405.6,467.6L405.6,468.7L406.7,468.7L406.7,467.8L407.8,467.8L407.8,470.4L408.9,470.4L408.9,469.4L409.9,469.4L409.9,465.8L411.0,465.8L411.0,466.7L412.1,466.7L412.1,466.5L413.2,466.5L413.2,466.5L414.3,466.5L414.3,461.9L415.4,461.9L415.4,470.2L416.5,470.2L416.5,466.6L417.6,466.6L417.6,463.3L418.7,463.3L418.7,459.7L419.7,459.7L419.7,464.9L420.8,464.9L420.8,462.0L421.9,462.0L421.9,460.9L423.0,460.9L423.0,467.5L424.1,467.5L424.1,461.7L425.2,461.7L425.2,457.3L426.3,457.3L426.3,461.8L427.4,461.8L427.4,460.4L428.5,460.4L428.5,460.6L429.6,460.6L429.6,455.5L430.6,455.5L430.6,466.4L431.7,466.4L431.7,464.7L432.8,464.7L432.8,461.8L433.9,461.8L433.9,461.3L435.0,461.3L435.0,461.3L436.1,461.3L436.1,459.0L437.2,459.0L437.2,458.0L438.3,458.0L438.3,468.6L439.4,468.6L439.4,465.7L440.4,465.7L440.4,460.1L441.5,460.1L441.5,461.6L442.6,461.6L442.6,461.2L443.7,461.2L443.7,460.0L444.8,460.0L444.8,463.0L445.9,463.0L445.9,469.9L447.0,469.9L447.0,469.0L448.1,469.0L448.1,440.2L449.2,440.2L449.2,470.5L450.3,470.5L450.3,471.1L451.3,471.1L451.3,471.0L452.4,471.0L452.4,471.5L453.5,471.5L453.5,472.1L454.6,472.1L454.6,471.4L455.7,471.4L455.7,470.4L456.8,470.4L456.8,462.3L457.9,462.3L457.9,464.5L459.0,464.5L459.0,457.2L460.1,457.2L460.1,458.9L461.2,458.9L461.2,469.1L462.2,469.1L462.2,464.1L463.3,464.1L463.3,460.0L464.4,460.0L464.4,459.4L465.5,459.4L465.5,461.5L466.6,461.5L466.6,453.7L467.7,453.7L467.7,451.6L468.8,451.6L468.8,467.1L469.9,467.1L469.9,460.3L471.0,460.3L471.0,460.4L472.0,460.4L472.0,460.1L473.1,460.1L473.1,457.2L474.2,457.2L474.2,457.9L475.3,457.9L475.3,451.0L476.4,451.0L476.4,467.8L477.5,467.8L477.5,463.4L478.6,463.4L478.6,448.7L479.7,448.7L479.7,453.7L480.8,453.7L480.8,458.3L481.9,458.3L481.9,453.1L482.9,453.1L482.9,459.5L484.0,459.5L484.0,465.8L485.1,465.8L485.1,453.2L486.2,453.2L486.2,448.0L487.3,448.0L487.3,450.0L488.4,450.0L488.4,455.6L489.5,455.6L489.5,453.6L490.6,453.6L490.6,426.6L491.7,426.6L491.7,463.1L492.8,463.1L492.8,453.9L493.8,453.9L493.8,442.2L494.9,442.2L494.9,448.9L496.0,448.9L496.0,450.5L497.1,450.5L497.1,439.4L498.2,439.4L498.2,435.8L499.3,435.8L499.3,460.5L500.4,460.5L500.4,446.9L501.5,446.9L501.5,437.7L502.6,437.7L502.6,438.9L503.6,438.9L503.6,448.6L504.7,448.6L504.7,442.5L505.8,442.5L505.8,445.3L506.9,445.3L506.9,465.3L508.0,465.3L508.0,456.5L509.1,456.5L509.1,445.4L510.2,445.4L510.2,445.4L511.3,445.4L511.3,435.4L512.4,435.4L512.4,428.8L513.5,428.8L513.5,398.7L514.5,398.7L514.5,457.0L515.6,457.0L515.6,438.0L516.7,438.0L516.7,420.5L517.8,420.5L517.8,441.4L518.9,441.4L518.9,444.9L520.0,444.9L520.0,444.9L521.1,444.9L521.1,445.8L522.2,445.8L522.2,463.3L523.3,463.3L523.3,446.6L524.3,446.6L524.3,433.5L525.4,433.5L525.4,370.5L526.5,370.5L526.5,444.5L527.6,444.5L527.6,442.5L528.7,442.5L528.7,440.4L529.8,440.4L529.8,465.9L530.9,465.9L530.9,450.6L532.0,450.6L532.0,439.0L533.1,439.0L533.1,441.4L534.2,441.4L534.2,442.1L535.2,442.1L535.2,447.0L536.3,447.0L536.3,452.3L537.4,452.3L537.4,429.6L538.5,429.6L538.5,455.6L539.6,455.6L539.6,442.0L540.7,442.0L540.7,439.3L541.8,439.3L541.8,449.1L542.9,449.1L542.9,449.2L544.0,449.2L544.0,440.2L545.0,440.2L545.0,462.7L546.1,462.7L546.1,458.2L547.2,458.2L547.2,454.1L548.3,454.1L548.3,453.8L549.4,453.8L549.4,441.6L550.5,441.6L550.5,443.4L551.6,443.4L551.6,454.2L552.7,454.2L552.7,462.4L553.8,462.4L553.8,449.4L554.9,449.4L554.9,413.0L555.9,413.0L555.9,453.0L557.0,453.0L557.0,450.9L558.1,450.9L558.1,457.4L559.2,457.4L559.2,459.5L560.3,459.5L560.3,464.0L561.4,464.0L561.4,457.1L562.5,457.1L562.5,453.4L563.6,453.4L563.6,448.3L564.7,448.3L564.7,454.6L565.8,454.6L565.8,449.0L566.8,449.0L566.8,449.6L567.9,449.6L567.9,467.3L569.0,467.3L569.0,460.8L570.1,460.8L570.1,456.4L571.2,456.4L571.2,457.0L572.3,457.0L572.3,452.7L573.4,452.7L573.4,456.8L574.5,456.8L574.5,454.8L575.6,454.8L575.6,467.7L576.6,467.7L576.6,454.6L577.7,454.6L577.7,455.6L578.8,455.6L578.8,454.3L579.9,454.3L579.9,452.7L581.0,452.7L581.0,448.5L582.1,448.5L582.1,454.6L583.2,454.6L583.2,464.1L584.3,464.1L584.3,458.2L585.4,458.2L585.4,452.9L586.5,452.9L586.5,453.0L587.5,453.0L587.5,459.5L588.6,459.5L588.6,453.9L589.7,453.9L589.7,457.2L590.8,457.2L590.8,468.1L591.9,468.1L591.9,454.9L593.0,454.9L593.0,457.1L594.1,457.1L594.1,453.1L595.2,453.1L595.2,449.6L596.3,449.6L596.3,451.8L597.3,451.8L597.4,454.8L598.4,454.8L598.4,465.5L599.5,465.5L599.5,456.8L600.6,456.8L600.6,448.4L601.7,448.4L601.7,457.7L602.8,457.7L602.8,451.6L603.9,451.6L603.9,455.8L605.0,455.8L605.0,455.5L606.1,455.5L606.1,464.3L607.2,464.3L607.2,457.5L608.2,457.5L608.2,451.8L609.3,451.8L609.3,430.7L610.4,430.7L610.4,447.2L611.5,447.2L611.5,453.5L612.6,453.5L612.6,451.2L613.7,451.2L613.7,465.7L614.8,465.7L614.8,457.7L615.9,457.7L615.9,450.3L617.0,450.3L617.0,453.5L618.1,453.5L618.1,452.5L619.1,452.5L619.1,453.3L620.2,453.3L620.2,447.2L621.3,447.2L621.3,464.8L622.4,464.8L622.4,454.0L623.5,454.0L623.5,446.7L624.6,446.7L624.6,455.7L625.7,455.7L625.7,451.6L626.8,451.6L626.8,446.2L627.9,446.2L627.9,447.5L628.9,447.5L628.9,467.2L630.0,467.2L630.0,461.0L631.1,461.0L631.1,452.6L632.2,452.6L632.2,457.7L633.3,457.7L633.3,455.2L634.4,455.2L634.4,457.5L635.5,457.5L635.5,448.9L636.6,448.9L636.6,463.8L637.7,463.8L637.7,452.2L638.8,452.2L638.8,456.0L639.8,456.0L639.8,447.7L640.9,447.7L640.9,447.8L642.0,447.8L642.0,455.0L643.1,455.0L643.1,442.7L644.2,442.7L644.2,461.4L645.3,461.4L645.3,457.2L646.4,457.2L646.4,438.8L647.5,438.8L647.5,447.7L648.6,447.7L648.6,445.4L649.6,445.4L649.6,435.3L650.7,435.3L650.7,437.5L651.8,437.5L651.8,464.7L652.9,464.7L652.9,451.3L654.0,451.3L654.0,421.6L655.1,421.6L655.1,445.0L656.2,445.0L656.2,447.5L657.3,447.5L657.3,444.4L658.4,444.4L658.4,435.2L659.5,435.2L659.5,464.8L660.5,464.8L660.5,445.9L661.6,445.9L661.6,413.9L662.7,413.9L662.7,446.6L663.8,446.6L663.8,436.8L664.9,436.8L664.9,426.7L666.0,426.7L666.0,427.9L667.1,427.9L667.1,461.2L668.2,461.2L668.2,424.7L669.3,424.7L669.3,383.3L670.4,383.3L670.4,404.4L671.4,404.4L671.4,433.1L672.5,433.1L672.5,425.8L673.6,425.8L673.6,433.0L674.7,433.0L674.7,448.2L675.8,448.2L675.8,253.2L676.9,253.2L676.9,425.8L678.0,425.8L678.0,412.6L679.1,412.6L679.1,390.4L680.2,390.4L680.2,392.9L681.2,392.9L681.2,416.5L682.3,416.5L682.3,454.4L683.4,454.4L683.4,406.1L684.5,406.1L684.5,398.9L685.6,398.9L685.6,362.9L686.7,362.9L686.7,420.0L687.8,420.0L687.8,420.8L688.9,420.8L688.9,388.6L690.0,388.6L690.0,337.1L691.1,337.1L691.1,434.0L692.1,434.0L692.1,384.4L693.2,384.4L693.2,402.4L694.3,402.4L694.3,399.8L695.4,399.8L695.4,431.3L696.5,431.3L696.5,405.2L697.6,405.2L697.6,459.8L698.7,459.8L698.7,426.9L699.8,426.9L699.8,427.7L700.9,427.7L700.9,433.7L701.9,433.7L702.0,430.3L703.0,430.3L703.0,413.9L704.1,413.9L704.1,443.1L705.2,443.1L705.2,464.2L706.3,464.2L706.3,450.4L707.4,450.4L707.4,451.1L708.5,451.1L708.5,455.5L709.6,455.5L709.6,456.4L710.7,456.4L710.7,459.1L711.8,459.1L711.8,458.4L712.8,458.4L712.8,467.7L713.9,467.7L713.9,463.1L715.0,463.1L715.0,457.3L716.1,457.3L716.1,461.6L717.2,461.6L717.2,459.9L718.3,459.9L718.3,462.8L719.4,462.8L719.4,461.5L720.5,461.5L720.5,469.8L721.6,469.8L721.6,465.1L722.7,465.1L722.7,464.6L723.7,464.6L723.7,459.0L724.8,459.0L724.8,460.6L725.9,460.6L725.9,463.6L727.0,463.6L727.0,461.5L728.1,461.5L728.1,467.6L729.2,467.6L729.2,466.6L730.3,466.6L730.3,459.5L731.4,459.5L731.4,462.4L732.5,462.4L732.5,462.2L733.5,462.2L733.5,460.0L734.6,460.0L734.6,463.2L735.7,463.2L735.7,469.1L736.8,469.1L736.8,464.3L737.9,464.3L737.9,459.8L739.0,459.8L739.0,464.1L740.1,464.1L740.1,461.1L741.2,461.1L741.2,462.0L742.3,462.0L742.3,462.6L743.4,462.6L743.4,469.7L744.4,469.7L744.4,466.6L745.5,466.6L745.5,466.4L746.6,466.4L746.6,466.0L747.7,466.0L747.7,466.5L748.8,466.5L748.8,462.7L749.9,462.7L749.9,465.6L751.0,465.6L751.0,470.4L752.1,470.4L752.1,468.2L753.2,468.2L753.2,462.6L754.2,462.6L754.2,462.6L755.3,462.6L755.3,463.8L756.4,463.8L756.4,465.9L757.5,465.9L757.5,466.2L758.6,466.2L758.6,470.3L759.7,470.3L759.7,467.0L760.8,467.0L760.8,466.8L761.9,466.8L761.9,465.3L763.0,465.3L763.0,466.3L764.1,466.3L764.1,462.9L765.1,462.9L765.1,462.9L766.2,462.9L766.2,470.0L767.3,470.0L767.3,468.1L768.4,468.1L768.4,462.9L769.5,462.9L769.5,465.7L770.6,465.7L770.6,464.9L771.7,464.9L771.7,466.6L772.8,466.6L772.8,463.7L773.9,463.7L773.9,469.1L775.0,469.1L775.0,464.5L776.0,464.5L776.0,463.6L777.1,463.6L777.1,460.9L778.2,460.9L778.2,464.6L779.3,464.6L779.3,462.2L780.4,462.2L780.4,463.3L781.5,463.3L781.5,468.4L782.6,468.4L782.6,465.6L783.7,465.6L783.7,463.1L784.8,463.1L784.8,460.1L785.8,460.1L785.8,460.1L786.9,460.1L786.9,455.5L788.0,455.5L788.0,455.2L789.1,455.2L789.1,465.3L790.2,465.3L790.2,456.9L791.3,456.9L791.3,449.9L792.4,449.9L792.4,446.6L793.5,446.6L793.5,452.5L794.6,452.5L794.6,452.6L795.7,452.6L795.7,453.2L796.7,453.2L796.7,462.2L797.8,462.2L797.8,454.0L798.9,454.0L798.9,443.6L800.0,443.6L800.0,439.3L801.1,439.3L801.1,441.7L802.2,441.7L802.2,435.3L803.3,435.3L803.3,433.6L804.4,433.6L804.4,455.9L805.5,455.9L805.5,447.7L806.5,447.7L806.5,443.0L807.6,443.0L807.6,435.3L808.7,435.3L808.7,424.2L809.8,424.2L809.8,426.8L810.9,426.8L810.9,424.1L812.0,424.1L812.0,458.7L813.1,458.7L813.1,439.8L814.2,439.8L814.2,394.3L815.3,394.3L815.3,433.2L816.4,433.2L816.4,427.4L817.4,427.4L817.4,425.9L818.5,425.9L818.5,426.2L819.6,426.2L819.6,445.3L820.7,445.3L820.7,439.4L821.8,439.4L821.8,409.1L822.9,409.1L822.9,409.6L824.0,409.6L824.0,424.2L825.1,424.2L825.1,417.7L826.2,417.7L826.2,415.4L827.3,415.4L827.3,381.8L828.3,381.8L828.3,436.8L829.4,436.8L829.4,400.3L830.5,400.3L830.5,412.4L831.6,412.4L831.6,405.8L832.7,405.8L832.7,416.5L833.8,416.5L833.8,412.9L834.9,412.9L834.9,438.3L836.0,438.3L836.0,384.9L837.1,384.9L837.1,383.2L838.1,383.2L838.1,407.2L839.2,407.2L839.2,381.7L840.3,381.7L840.3,394.1L841.4,394.1L841.4,395.5L842.5,395.5L842.5,447.4L843.6,447.4L843.6,424.4L844.7,424.4L844.7,378.6L845.8,378.6L845.8,378.6L846.9,378.6L846.9,411.6L848.0,411.6L848.0,392.9L849.0,392.9L849.0,399.7L850.1,399.7L850.1,442.6L851.2,442.6L851.2,372.3L852.3,372.3L852.3,379.8L853.4,379.8L853.4,404.7L854.5,404.7L854.5,379.9L855.6,379.9L855.6,396.6L856.7,396.6L856.7,391.8L857.8,391.8L857.8,369.2L858.9,369.2L858.9,422.1L859.9,422.1L859.9,407.2L861.0,407.2L861.0,375.7L862.1,375.7L862.1,372.4L863.2,372.4L863.2,399.9L864.3,399.9L864.3,375.5L865.4,375.5L865.4,433.4L866.5,433.4L866.5,416.8L867.6,416.8L867.6,381.3L868.7,381.3L868.7,397.0L869.7,397.0L869.7,416.7L870.8,416.7L870.8,404.8L871.9,404.8L871.9,400.5L873.0,400.5L873.0,452.3L874.1,452.3L874.1,440.7L875.2,440.7L875.2,416.6L876.3,416.6L876.3,407.4L877.4,407.4L877.4,423.1L878.5,423.1L878.5,424.0L879.6,424.0L879.6,423.7L880.6,423.7L880.6,456.3L881.7,456.3L881.7,438.4L882.8,438.4L882.8,435.2L883.9,435.2L883.9,422.3L885.0,422.3L885,472.7Z" fill="#5b9bd5"/>
<g fill="#1f4170">
<ellipse cx="389.8" cy="255.6" rx="4.3" ry="3.6"/>
<polygon points="386,261.2 394,261.2 396.9,263.4 402.9,274.7 400.7,276.5 395.4,268.3 401.1,282.8 395.4,282.8 395.4,296.6 391.3,296.6 391.3,282.8 388.8,282.8 388.8,296.6 384.5,296.6 384.5,282.8 378.6,282.8 384.5,268.3 379.2,276.5 376.9,274.7 383.1,263.4"/>
</g>
<g fill="#c3217d">
<ellipse cx="390.5" cy="307.7" rx="4.7" ry="3.6"/>
<path d="M382,314.3 L399.7,314.3 Q402.5,314.6 402.5,317.6 L402.5,329.2 L399,329.2 L399,319.3 L397.6,319.3 L397.6,349 L392.2,349 L392.2,330.6 L389.3,330.6 L389.3,349 L384,349 L384,319.3 L382.6,319.3 L382.6,329.2 L379.2,329.2 L379.2,317.6 Q379.2,314.6 382,314.3Z"/>
</g>
</svg>
<div class="t" style="left:349.6px;top:472.7px;font-size:12.3px;transform:translate(-100%,-50%);color:#595959;">0</div>
<div class="t" style="left:349.6px;top:441.3px;font-size:12.3px;transform:translate(-100%,-50%);color:#595959;">200</div>
<div class="t" style="left:349.6px;top:410px;font-size:12.3px;transform:translate(-100%,-50%);color:#595959;">400</div>
<div class="t" style="left:349.6px;top:378.6px;font-size:12.3px;transform:translate(-100%,-50%);color:#595959;">600</div>
<div class="t" style="left:349.6px;top:347.3px;font-size:12.3px;transform:translate(-100%,-50%);color:#595959;">800</div>
<div class="t" style="left:349.6px;top:315.9px;font-size:12.3px;transform:translate(-100%,-50%);color:#595959;">1000</div>
<div class="t" style="left:349.6px;top:284.5px;font-size:12.3px;transform:translate(-100%,-50%);color:#595959;">1200</div>
<div class="t" style="left:349.6px;top:253.2px;font-size:12.3px;transform:translate(-100%,-50%);color:#595959;">1400</div>
<div class="t" style="left:349.6px;top:221.8px;font-size:12.3px;transform:translate(-100%,-50%);color:#595959;">1600</div>
<div class="t" style="left:362px;top:487.8px;font-size:10.2px;transform:translate(-50%,-50%);color:#595959;">24-mar.</div>
<div class="t" style="left:428.5px;top:487.8px;font-size:10.2px;transform:translate(-50%,-50%);color:#595959;">24-may.</div>
<div class="t" style="left:495px;top:487.8px;font-size:10.2px;transform:translate(-50%,-50%);color:#595959;">24-jul.</div>
<div class="t" style="left:562.4px;top:487.8px;font-size:10.2px;transform:translate(-50%,-50%);color:#595959;">24-sep.</div>
<div class="t" style="left:628.8px;top:487.8px;font-size:10.2px;transform:translate(-50%,-50%);color:#595959;">24-nov.</div>
<div class="t" style="left:695.5px;top:487.8px;font-size:10.2px;transform:translate(-50%,-50%);color:#595959;">24-ene.</div>
<div class="t" style="left:759.5px;top:487.8px;font-size:10.2px;transform:translate(-50%,-50%);color:#595959;">24-mar.</div>
<div class="t" style="left:826px;top:487.8px;font-size:10.2px;transform:translate(-50%,-50%);color:#595959;">24-may.</div>
<div class="t" style="left:520.3px;top:234.9px;font-size:16px;transform:translate(-50%,-50%);font-weight:700;color:#3b7dbd;letter-spacing:0.04px;">84.270 casos (220 casos nuevos)</div>
<div class="t" style="left:452px;top:267px;font-size:14px;transform:translate(-50%,-50%);font-weight:700;color:#111;">43.881 casos</div>
<div class="t" style="left:452.5px;top:284.6px;font-size:14px;transform:translate(-50%,-50%);font-weight:700;color:#111;">52,1 %</div>
<div class="t" style="left:451px;top:317.3px;font-size:14px;transform:translate(-50%,-50%);font-weight:700;color:#111;">40.389 casos</div>
<div class="t" style="left:452.5px;top:334px;font-size:14px;transform:translate(-50%,-50%);font-weight:700;color:#111;">47,9 %</div>
<!-- table -->
<div class="abs" style="left:315.6px;top:496.2px;width:593.4px;height:422.4px;background:#eaecf6"></div>
<div class="abs" style="left:315.6px;top:496.2px;width:593.4px;height:19.1px;background:#e4e7f3"></div>
<svg class="abs" style="left:0;top:490px" width="989" height="440" viewBox="0 490 989 440"><g stroke="#fff" stroke-opacity=".82">
<line x1="315.6" y1="515.3" x2="909" y2="515.3" stroke-width="1.2"/>
<line x1="315.6" y1="533.7" x2="909" y2="533.7" stroke-width="1.2"/>
<line x1="315.6" y1="552" x2="909" y2="552" stroke-width="1.2"/>
<line x1="315.6" y1="570.3" x2="909" y2="570.3" stroke-width="1.2"/>
<line x1="315.6" y1="588.7" x2="909" y2="588.7" stroke-width="1.2"/>
<line x1="315.6" y1="607" x2="909" y2="607" stroke-width="1.2"/>
<line x1="315.6" y1="625.3" x2="909" y2="625.3" stroke-width="1.2"/>
<line x1="315.6" y1="643.7" x2="909" y2="643.7" stroke-width="1.2"/>
<line x1="315.6" y1="662" x2="909" y2="662" stroke-width="1.2"/>
<line x1="315.6" y1="680.3" x2="909" y2="680.3" stroke-width="1.2"/>
<line x1="315.6" y1="698.6" x2="909" y2="698.6" stroke-width="1.2"/>
<line x1="315.6" y1="717" x2="909" y2="717" stroke-width="1.2"/>
<line x1="315.6" y1="735.3" x2="909" y2="735.3" stroke-width="1.2"/>
<line x1="315.6" y1="753.6" x2="909" y2="753.6" stroke-width="1.2"/>
<line x1="315.6" y1="772" x2="909" y2="772" stroke-width="1.2"/>
<line x1="315.6" y1="790.3" x2="909" y2="790.3" stroke-width="1.2"/>
<line x1="315.6" y1="808.6" x2="909" y2="808.6" stroke-width="1.2"/>
<line x1="315.6" y1="827" x2="909" y2="827" stroke-width="1.2"/>
<line x1="315.6" y1="845.3" x2="909" y2="845.3" stroke-width="1.2"/>
<line x1="315.6" y1="863.6" x2="909" y2="863.6" stroke-width="1.2"/>
<line x1="315.6" y1="881.9" x2="909" y2="881.9" stroke-width="1.2"/>
<line x1="315.6" y1="900.3" x2="720.5" y2="900.3" stroke-width="1.2"/>
<line x1="406" y1="496.2" x2="406" y2="918.6" stroke-width="1.5"/>
<line x1="462" y1="496.2" x2="462" y2="918.6" stroke-width="1.5"/>
<line x1="518.6" y1="496.2" x2="518.6" y2="918.6" stroke-width="1.5"/>
<line x1="626" y1="496.2" x2="626" y2="918.6" stroke-width="1.5"/>
<line x1="666.4" y1="496.2" x2="666.4" y2="918.6" stroke-width="1.5"/>
<line x1="720.5" y1="496.2" x2="720.5" y2="918.6" stroke-width="1.5"/>
<line x1="813.6" y1="496.2" x2="813.6" y2="918.6" stroke-width="1.5"/>
<line x1="860.5" y1="496.2" x2="860.5" y2="918.6" stroke-width="1.5"/>
</g></svg>
<div class="t" style="left:361px;top:507.9px;font-size:13.8px;transform:translate(-50%,-50%);font-weight:700;color:#111;">Municipio</div>
<div class="t" style="left:433px;top:507.9px;font-size:13.8px;transform:translate(-50%,-50%);font-weight:700;color:#111;">Total</div>
<div class="t" style="left:490px;top:507.9px;font-size:13.8px;transform:translate(-50%,-50%);font-weight:700;color:#111;">%</div>
<div class="t" style="left:572.3px;top:507.9px;font-size:13.8px;transform:translate(-50%,-50%);font-weight:700;color:#111;">Municipio</div>
<div class="t" style="left:646.3px;top:507.9px;font-size:13.8px;transform:translate(-50%,-50%);font-weight:700;color:#111;">Total</div>
<div class="t" style="left:693.9px;top:507.9px;font-size:13.8px;transform:translate(-50%,-50%);font-weight:700;color:#111;">%</div>
<div class="t" style="left:767.3px;top:507.9px;font-size:13.8px;transform:translate(-50%,-50%);font-weight:700;color:#111;">Municipio</div>
<div class="t" style="left:837.2px;top:507.9px;font-size:13.8px;transform:translate(-50%,-50%);font-weight:700;color:#111;">Total</div>
<div class="t" style="left:884.8px;top:507.9px;font-size:13.8px;transform:translate(-50%,-50%);font-weight:700;color:#111;">%</div>
<div class="t" style="left:317.2px;top:526.7px;font-size:12.8px;transform:translate(0,-50%);color:#1c1c1c;">Pasto</div>
<div class="t" style="left:433px;top:526.7px;font-size:12.8px;transform:translate(-50%,-50%);color:#1c1c1c;">46.365</div>
<div class="t" style="left:490px;top:526.7px;font-size:12.8px;transform:translate(-50%,-50%);color:#1c1c1c;">55,02</div>
<div class="t" style="left:317.2px;top:545px;font-size:12.8px;transform:translate(0,-50%);color:#1c1c1c;">Ipiales</div>
<div class="t" style="left:433px;top:545px;font-size:12.8px;transform:translate(-50%,-50%);color:#1c1c1c;">8.058</div>
<div class="t" style="left:490px;top:545px;font-size:12.8px;transform:translate(-50%,-50%);color:#1c1c1c;">9,56</div>
<div class="t" style="left:317.2px;top:563.4px;font-size:12.8px;transform:translate(0,-50%);color:#1c1c1c;">Tumaco</div>
<div class="t" style="left:433px;top:563.4px;font-size:12.8px;transform:translate(-50%,-50%);color:#1c1c1c;">5.041</div>
<div class="t" style="left:490px;top:563.4px;font-size:12.8px;transform:translate(-50%,-50%);color:#1c1c1c;">5,98</div>
<div class="t" style="left:317.2px;top:581.7px;font-size:12.8px;transform:translate(0,-50%);color:#1c1c1c;">La Union</div>
<div class="t" style="left:433px;top:581.7px;font-size:12.8px;transform:translate(-50%,-50%);color:#1c1c1c;">2289</div>
<div class="t" style="left:490px;top:581.7px;font-size:12.8px;transform:translate(-50%,-50%);color:#1c1c1c;">2,72</div>
<div class="t" style="left:317.2px;top:600px;font-size:12.8px;transform:translate(0,-50%);color:#1c1c1c;">Tuquerres</div>
<div class="t" style="left:433px;top:600px;font-size:12.8px;transform:translate(-50%,-50%);color:#1c1c1c;">1569</div>
<div class="t" style="left:490px;top:600px;font-size:12.8px;transform:translate(-50%,-50%);color:#1c1c1c;">1,86</div>
<div class="t" style="left:317.2px;top:618.4px;font-size:12.8px;transform:translate(0,-50%);color:#1c1c1c;">La Cruz</div>
<div class="t" style="left:433px;top:618.4px;font-size:12.8px;transform:translate(-50%,-50%);color:#1c1c1c;">1201</div>
<div class="t" style="left:490px;top:618.4px;font-size:12.8px;transform:translate(-50%,-50%);color:#1c1c1c;">1,43</div>
<div class="t" style="left:317.2px;top:636.7px;font-size:12.8px;transform:translate(0,-50%);color:#1c1c1c;">Sandoná</div>
<div class="t" style="left:433px;top:636.7px;font-size:12.8px;transform:translate(-50%,-50%);color:#1c1c1c;">1068</div>
<div class="t" style="left:490px;top:636.7px;font-size:12.8px;transform:translate(-50%,-50%);color:#1c1c1c;">1,27</div>
<div class="t" style="left:317.2px;top:655px;font-size:12.8px;transform:translate(0,-50%);color:#1c1c1c;">Buesaco</div>
<div class="t" style="left:433px;top:655px;font-size:12.8px;transform:translate(-50%,-50%);color:#1c1c1c;">869</div>
<div class="t" style="left:490px;top:655px;font-size:12.8px;transform:translate(-50%,-50%);color:#1c1c1c;">1,03</div>
<div class="t" style="left:317.2px;top:673.3px;font-size:12.8px;transform:translate(0,-50%);color:#1c1c1c;">Cumbal</div>
<div class="t" style="left:433px;top:673.3px;font-size:12.8px;transform:translate(-50%,-50%);color:#1c1c1c;">858</div>
<div class="t" style="left:490px;top:673.3px;font-size:12.8px;transform:translate(-50%,-50%);color:#1c1c1c;">1,02</div>
<div class="t" style="left:317.2px;top:691.7px;font-size:12.8px;transform:translate(0,-50%);color:#1c1c1c;">Barbacoas</div>
<div class="t" style="left:433px;top:691.7px;font-size:12.8px;transform:translate(-50%,-50%);color:#1c1c1c;">726</div>
<div class="t" style="left:490px;top:691.7px;font-size:12.8px;transform:translate(-50%,-50%);color:#1c1c1c;">0,86</div>
<div class="t" style="left:317.2px;top:710px;font-size:12.8px;transform:translate(0,-50%);color:#1c1c1c;">Pupiales</div>
<div class="t" style="left:433px;top:710px;font-size:12.8px;transform:translate(-50%,-50%);color:#1c1c1c;">696</div>
<div class="t" style="left:490px;top:710px;font-size:12.8px;transform:translate(-50%,-50%);color:#1c1c1c;">0,83</div>
<div class="t" style="left:317.2px;top:728.3px;font-size:12.8px;transform:translate(0,-50%);color:#1c1c1c;">Tangua</div>
<div class="t" style="left:433px;top:728.3px;font-size:12.8px;transform:translate(-50%,-50%);color:#1c1c1c;">696</div>
<div class="t" style="left:490px;top:728.3px;font-size:12.8px;transform:translate(-50%,-50%);color:#1c1c1c;">0,83</div>
<div class="t" style="left:317.2px;top:746.7px;font-size:12.8px;transform:translate(0,-50%);color:#1c1c1c;">San Pablo</div>
<div class="t" style="left:433px;top:746.7px;font-size:12.8px;transform:translate(-50%,-50%);color:#1c1c1c;">646</div>
<div class="t" style="left:490px;top:746.7px;font-size:12.8px;transform:translate(-50%,-50%);color:#1c1c1c;">0,77</div>
<div class="t" style="left:317.2px;top:765px;font-size:12.8px;transform:translate(0,-50%);color:#1c1c1c;">Samaniego</div>
<div class="t" style="left:433px;top:765px;font-size:12.8px;transform:translate(-50%,-50%);color:#1c1c1c;">599</div>
<div class="t" style="left:490px;top:765px;font-size:12.8px;transform:translate(-50%,-50%);color:#1c1c1c;">0,71</div>
<div class="t" style="left:317.2px;top:783.3px;font-size:12.8px;transform:translate(0,-50%);color:#1c1c1c;">Chachagüi</div>
<div class="t" style="left:433px;top:783.3px;font-size:12.8px;transform:translate(-50%,-50%);color:#1c1c1c;">584</div>
<div class="t" style="left:490px;top:783.3px;font-size:12.8px;transform:translate(-50%,-50%);color:#1c1c1c;">0,69</div>
<div class="t" style="left:317.2px;top:801.7px;font-size:12.8px;transform:translate(0,-50%);color:#1c1c1c;">El Tambo</div>
<div class="t" style="left:433px;top:801.7px;font-size:12.8px;transform:translate(-50%,-50%);color:#1c1c1c;">584</div>
<div class="t" style="left:490px;top:801.7px;font-size:12.8px;transform:translate(-50%,-50%);color:#1c1c1c;">0,69</div>
<div class="t" style="left:317.2px;top:820px;font-size:12.8px;transform:translate(0,-50%);color:#1c1c1c;">Colón</div>
<div class="t" style="left:433px;top:820px;font-size:12.8px;transform:translate(-50%,-50%);color:#1c1c1c;">569</div>
<div class="t" style="left:490px;top:820px;font-size:12.8px;transform:translate(-50%,-50%);color:#1c1c1c;">0,68</div>
<div class="t" style="left:317.2px;top:838.3px;font-size:12.8px;transform:translate(0,-50%);color:#1c1c1c;">San Lorenzo</div>
<div class="t" style="left:433px;top:838.3px;font-size:12.8px;transform:translate(-50%,-50%);color:#1c1c1c;">563</div>
<div class="t" style="left:490px;top:838.3px;font-size:12.8px;transform:translate(-50%,-50%);color:#1c1c1c;">0,67</div>
<div class="t" style="left:317.2px;top:856.6px;font-size:12.8px;transform:translate(0,-50%);color:#1c1c1c;">Linares</div>
<div class="t" style="left:433px;top:856.6px;font-size:12.8px;transform:translate(-50%,-50%);color:#1c1c1c;">511</div>
<div class="t" style="left:490px;top:856.6px;font-size:12.8px;transform:translate(-50%,-50%);color:#1c1c1c;">0,61</div>
<div class="t" style="left:317.2px;top:875px;font-size:12.8px;transform:translate(0,-50%);color:#1c1c1c;">Yacuanquer</div>
<div class="t" style="left:433px;top:875px;font-size:12.8px;transform:translate(-50%,-50%);color:#1c1c1c;">445</div>
<div class="t" style="left:490px;top:875px;font-size:12.8px;transform:translate(-50%,-50%);color:#1c1c1c;">0,53</div>
<div class="t" style="left:317.2px;top:893.3px;font-size:12.8px;transform:translate(0,-50%);color:#1c1c1c;">Albán</div>
<div class="t" style="left:433px;top:893.3px;font-size:12.8px;transform:translate(-50%,-50%);color:#1c1c1c;">437</div>
<div class="t" style="left:490px;top:893.3px;font-size:12.8px;transform:translate(-50%,-50%);color:#1c1c1c;">0,52</div>
<div class="t" style="left:317.2px;top:911.6px;font-size:12.8px;transform:translate(0,-50%);color:#1c1c1c;">Belén</div>
<div class="t" style="left:433px;top:911.6px;font-size:12.8px;transform:translate(-50%,-50%);color:#1c1c1c;">421</div>
<div class="t" style="left:490px;top:911.6px;font-size:12.8px;transform:translate(-50%,-50%);color:#1c1c1c;">0,50</div>
<div class="t" style="left:520.4px;top:526.7px;font-size:12.8px;transform:translate(0,-50%);color:#1c1c1c;">Guachucal</div>
<div class="t" style="left:646.3px;top:526.7px;font-size:12.8px;transform:translate(-50%,-50%);color:#1c1c1c;">405</div>
<div class="t" style="left:693.9px;top:526.7px;font-size:12.8px;transform:translate(-50%,-50%);color:#1c1c1c;">0,48</div>
<div class="t" style="left:520.4px;top:545px;font-size:12.8px;transform:translate(0,-50%);color:#1c1c1c;">El Tablón</div>
<div class="t" style="left:646.3px;top:545px;font-size:12.8px;transform:translate(-50%,-50%);color:#1c1c1c;">392</div>
<div class="t" style="left:693.9px;top:545px;font-size:12.8px;transform:translate(-50%,-50%);color:#1c1c1c;">0,47</div>
<div class="t" style="left:520.4px;top:563.4px;font-size:12.8px;transform:translate(0,-50%);color:#1c1c1c;">Puerres</div>
<div class="t" style="left:646.3px;top:563.4px;font-size:12.8px;transform:translate(-50%,-50%);color:#1c1c1c;">377</div>
<div class="t" style="left:693.9px;top:563.4px;font-size:12.8px;transform:translate(-50%,-50%);color:#1c1c1c;">0,45</div>
<div class="t" style="left:520.4px;top:581.7px;font-size:12.8px;transform:translate(0,-50%);color:#1c1c1c;">Policarpa</div>
<div class="t" style="left:646.3px;top:581.7px;font-size:12.8px;transform:translate(-50%,-50%);color:#1c1c1c;">368</div>
<div class="t" style="left:693.9px;top:581.7px;font-size:12.8px;transform:translate(-50%,-50%);color:#1c1c1c;">0,44</div>
<div class="t" style="left:520.4px;top:600px;font-size:12.8px;transform:translate(0,-50%);color:#1c1c1c;">Taminango</div>
<div class="t" style="left:646.3px;top:600px;font-size:12.8px;transform:translate(-50%,-50%);color:#1c1c1c;">359</div>
<div class="t" style="left:693.9px;top:600px;font-size:12.8px;transform:translate(-50%,-50%);color:#1c1c1c;">0,43</div>
<div class="t" style="left:520.4px;top:618.4px;font-size:12.8px;transform:translate(0,-50%);color:#1c1c1c;">Córdoba</div>
<div class="t" style="left:646.3px;top:618.4px;font-size:12.8px;transform:translate(-50%,-50%);color:#1c1c1c;">343</div>
<div class="t" style="left:693.9px;top:618.4px;font-size:12.8px;transform:translate(-50%,-50%);color:#1c1c1c;">0,41</div>
<div class="t" style="left:520.4px;top:636.7px;font-size:12.8px;transform:translate(0,-50%);color:#1c1c1c;">El Charco</div>
<div class="t" style="left:646.3px;top:636.7px;font-size:12.8px;transform:translate(-50%,-50%);color:#1c1c1c;">335</div>
<div class="t" style="left:693.9px;top:636.7px;font-size:12.8px;transform:translate(-50%,-50%);color:#1c1c1c;">0,40</div>
<div class="t" style="left:520.4px;top:655px;font-size:12.8px;transform:translate(0,-50%);color:#1c1c1c;">Consacá</div>
<div class="t" style="left:646.3px;top:655px;font-size:12.8px;transform:translate(-50%,-50%);color:#1c1c1c;">324</div>
<div class="t" style="left:693.9px;top:655px;font-size:12.8px;transform:translate(-50%,-50%);color:#1c1c1c;">0,38</div>
<div class="t" style="left:520.4px;top:673.3px;font-size:12.8px;transform:translate(0,-50%);color:#1c1c1c;">La Florida</div>
<div class="t" style="left:646.3px;top:673.3px;font-size:12.8px;transform:translate(-50%,-50%);color:#1c1c1c;">323</div>
<div class="t" style="left:693.9px;top:673.3px;font-size:12.8px;transform:translate(-50%,-50%);color:#1c1c1c;">0,38</div>
<div class="t" style="left:520.4px;top:691.7px;font-size:12.8px;transform:translate(0,-50%);color:#1c1c1c;">Arboleda</div>
<div class="t" style="left:646.3px;top:691.7px;font-size:12.8px;transform:translate(-50%,-50%);color:#1c1c1c;">317</div>
<div class="t" style="left:693.9px;top:691.7px;font-size:12.8px;transform:translate(-50%,-50%);color:#1c1c1c;">0,38</div>
<div class="t" style="left:520.4px;top:710px;font-size:12.8px;transform:translate(0,-50%);color:#1c1c1c;">Guaitarilla</div>
<div class="t" style="left:646.3px;top:710px;font-size:12.8px;transform:translate(-50%,-50%);color:#1c1c1c;">285</div>
<div class="t" style="left:693.9px;top:710px;font-size:12.8px;transform:translate(-50%,-50%);color:#1c1c1c;">0,34</div>
<div class="t" style="left:520.4px;top:728.3px;font-size:12.8px;transform:translate(0,-50%);color:#1c1c1c;">El Peñol</div>
<div class="t" style="left:646.3px;top:728.3px;font-size:12.8px;transform:translate(-50%,-50%);color:#1c1c1c;">276</div>
<div class="t" style="left:693.9px;top:728.3px;font-size:12.8px;transform:translate(-50%,-50%);color:#1c1c1c;">0,33</div>
<div class="t" style="left:520.4px;top:746.7px;font-size:12.8px;transform:translate(0,-50%);color:#1c1c1c;">Contadero</div>
<div class="t" style="left:646.3px;top:746.7px;font-size:12.8px;transform:translate(-50%,-50%);color:#1c1c1c;">252</div>
<div class="t" style="left:693.9px;top:746.7px;font-size:12.8px;transform:translate(-50%,-50%);color:#1c1c1c;">0,30</div>
<div class="t" style="left:520.4px;top:765px;font-size:12.8px;transform:translate(0,-50%);color:#1c1c1c;">Cartago</div>
<div class="t" style="left:646.3px;top:765px;font-size:12.8px;transform:translate(-50%,-50%);color:#1c1c1c;">252</div>
<div class="t" style="left:693.9px;top:765px;font-size:12.8px;transform:translate(-50%,-50%);color:#1c1c1c;">0,30</div>
<div class="t" style="left:520.4px;top:783.3px;font-size:12.8px;transform:translate(0,-50%);color:#1c1c1c;">El Rosario</div>
<div class="t" style="left:646.3px;top:783.3px;font-size:12.8px;transform:translate(-50%,-50%);color:#1c1c1c;">247</div>
<div class="t" style="left:693.9px;top:783.3px;font-size:12.8px;transform:translate(-50%,-50%);color:#1c1c1c;">0,29</div>
<div class="t" style="left:520.4px;top:801.7px;font-size:12.8px;transform:translate(0,-50%);color:#1c1c1c;">Iles</div>
<div class="t" style="left:646.3px;top:801.7px;font-size:12.8px;transform:translate(-50%,-50%);color:#1c1c1c;">246</div>
<div class="t" style="left:693.9px;top:801.7px;font-size:12.8px;transform:translate(-50%,-50%);color:#1c1c1c;">0,29</div>
<div class="t" style="left:520.4px;top:820px;font-size:12.8px;transform:translate(0,-50%);color:#1c1c1c;">Olaya Herrera</div>
<div class="t" style="left:646.3px;top:820px;font-size:12.8px;transform:translate(-50%,-50%);color:#1c1c1c;">244</div>
<div class="t" style="left:693.9px;top:820px;font-size:12.8px;transform:translate(-50%,-50%);color:#1c1c1c;">0,29</div>
<div class="t" style="left:520.4px;top:838.3px;font-size:12.8px;transform:translate(0,-50%);color:#1c1c1c;">Imués</div>
<div class="t" style="left:646.3px;top:838.3px;font-size:12.8px;transform:translate(-50%,-50%);color:#1c1c1c;">240</div>
<div class="t" style="left:693.9px;top:838.3px;font-size:12.8px;transform:translate(-50%,-50%);color:#1c1c1c;">0,28</div>
<div class="t" style="left:520.4px;top:856.6px;font-size:12.8px;transform:translate(0,-50%);color:#1c1c1c;">Magüi</div>
<div class="t" style="left:646.3px;top:856.6px;font-size:12.8px;transform:translate(-50%,-50%);color:#1c1c1c;">231</div>
<div class="t" style="left:693.9px;top:856.6px;font-size:12.8px;transform:translate(-50%,-50%);color:#1c1c1c;">0,27</div>
<div class="t" style="left:520.4px;top:875px;font-size:12.8px;transform:translate(0,-50%);color:#1c1c1c;">Los Andes</div>
<div class="t" style="left:646.3px;top:875px;font-size:12.8px;transform:translate(-50%,-50%);color:#1c1c1c;">213</div>
<div class="t" style="left:693.9px;top:875px;font-size:12.8px;transform:translate(-50%,-50%);color:#1c1c1c;">0,25</div>
<div class="t" style="left:520.4px;top:893.3px;font-size:12.8px;transform:translate(0,-50%);color:#1c1c1c;">Aldana</div>
<div class="t" style="left:646.3px;top:893.3px;font-size:12.8px;transform:translate(-50%,-50%);color:#1c1c1c;">211</div>
<div class="t" style="left:693.9px;top:893.3px;font-size:12.8px;transform:translate(-50%,-50%);color:#1c1c1c;">0,25</div>
<div class="t" style="left:520.4px;top:911.6px;font-size:12.8px;transform:translate(0,-50%);color:#1c1c1c;">Potosi</div>
<div class="t" style="left:646.3px;top:911.6px;font-size:12.8px;transform:translate(-50%,-50%);color:#1c1c1c;">208</div>
<div class="t" style="left:693.9px;top:911.6px;font-size:12.8px;transform:translate(-50%,-50%);color:#1c1c1c;">0,25</div>
<div class="t" style="left:722.3px;top:526.7px;font-size:12.8px;transform:translate(0,-50%);color:#1c1c1c;">San Bernardo</div>
<div class="t" style="left:837.2px;top:526.7px;font-size:12.8px;transform:translate(-50%,-50%);color:#1c1c1c;">206</div>
<div class="t" style="left:884.8px;top:526.7px;font-size:12.8px;transform:translate(-50%,-50%);color:#1c1c1c;">0,24</div>
<div class="t" style="left:722.3px;top:545px;font-size:12.8px;transform:translate(0,-50%);color:#1c1c1c;">Cuaspud</div>
<div class="t" style="left:837.2px;top:545px;font-size:12.8px;transform:translate(-50%,-50%);color:#1c1c1c;">197</div>
<div class="t" style="left:884.8px;top:545px;font-size:12.8px;transform:translate(-50%,-50%);color:#1c1c1c;">0,23</div>
<div class="t" style="left:722.3px;top:563.4px;font-size:12.8px;transform:translate(0,-50%);color:#1c1c1c;">Funes</div>
<div class="t" style="left:837.2px;top:563.4px;font-size:12.8px;transform:translate(-50%,-50%);color:#1c1c1c;">195</div>
<div class="t" style="left:884.8px;top:563.4px;font-size:12.8px;transform:translate(-50%,-50%);color:#1c1c1c;">0,23</div>
<div class="t" style="left:722.3px;top:581.7px;font-size:12.8px;transform:translate(0,-50%);color:#1c1c1c;">Mallama</div>
<div class="t" style="left:837.2px;top:581.7px;font-size:12.8px;transform:translate(-50%,-50%);color:#1c1c1c;">194</div>
<div class="t" style="left:884.8px;top:581.7px;font-size:12.8px;transform:translate(-50%,-50%);color:#1c1c1c;">0,23</div>
<div class="t" style="left:722.3px;top:600px;font-size:12.8px;transform:translate(0,-50%);color:#1c1c1c;">Ospina</div>
<div class="t" style="left:837.2px;top:600px;font-size:12.8px;transform:translate(-50%,-50%);color:#1c1c1c;">193</div>
<div class="t" style="left:884.8px;top:600px;font-size:12.8px;transform:translate(-50%,-50%);color:#1c1c1c;">0,23</div>
<div class="t" style="left:722.3px;top:618.4px;font-size:12.8px;transform:translate(0,-50%);color:#1c1c1c;">Cumbitara</div>
<div class="t" style="left:837.2px;top:618.4px;font-size:12.8px;transform:translate(-50%,-50%);color:#1c1c1c;">186</div>
<div class="t" style="left:884.8px;top:618.4px;font-size:12.8px;transform:translate(-50%,-50%);color:#1c1c1c;">0,22</div>
<div class="t" style="left:722.3px;top:636.7px;font-size:12.8px;transform:translate(0,-50%);color:#1c1c1c;">Nariño</div>
<div class="t" style="left:837.2px;top:636.7px;font-size:12.8px;transform:translate(-50%,-50%);color:#1c1c1c;">184</div>
<div class="t" style="left:884.8px;top:636.7px;font-size:12.8px;transform:translate(-50%,-50%);color:#1c1c1c;">0,22</div>
<div class="t" style="left:722.3px;top:655px;font-size:12.8px;transform:translate(0,-50%);color:#1c1c1c;">Sapuyes</div>
<div class="t" style="left:837.2px;top:655px;font-size:12.8px;transform:translate(-50%,-50%);color:#1c1c1c;">178</div>
<div class="t" style="left:884.8px;top:655px;font-size:12.8px;transform:translate(-50%,-50%);color:#1c1c1c;">0,21</div>
<div class="t" style="left:722.3px;top:673.3px;font-size:12.8px;transform:translate(0,-50%);color:#1c1c1c;">Ricaurte</div>
<div class="t" style="left:837.2px;top:673.3px;font-size:12.8px;transform:translate(-50%,-50%);color:#1c1c1c;">167</div>
<div class="t" style="left:884.8px;top:673.3px;font-size:12.8px;transform:translate(-50%,-50%);color:#1c1c1c;">0,20</div>
<div class="t" style="left:722.3px;top:691.7px;font-size:12.8px;transform:translate(0,-50%);color:#1c1c1c;">Mosquera</div>
<div class="t" style="left:837.2px;top:691.7px;font-size:12.8px;transform:translate(-50%,-50%);color:#1c1c1c;">162</div>
<div class="t" style="left:884.8px;top:691.7px;font-size:12.8px;transform:translate(-50%,-50%);color:#1c1c1c;">0,19</div>
<div class="t" style="left:722.3px;top:710px;font-size:12.8px;transform:translate(0,-50%);color:#1c1c1c;">Leiva</div>
<div class="t" style="left:837.2px;top:710px;font-size:12.8px;transform:translate(-50%,-50%);color:#1c1c1c;">160</div>
<div class="t" style="left:884.8px;top:710px;font-size:12.8px;transform:translate(-50%,-50%);color:#1c1c1c;">0,19</div>
<div class="t" style="left:722.3px;top:728.3px;font-size:12.8px;transform:translate(0,-50%);color:#1c1c1c;">Santacruz</div>
<div class="t" style="left:837.2px;top:728.3px;font-size:12.8px;transform:translate(-50%,-50%);color:#1c1c1c;">146</div>
<div class="t" style="left:884.8px;top:728.3px;font-size:12.8px;transform:translate(-50%,-50%);color:#1c1c1c;">0,17</div>
<div class="t" style="left:722.3px;top:746.7px;font-size:12.8px;transform:translate(0,-50%);color:#1c1c1c;">La Llanada</div>
<div class="t" style="left:837.2px;top:746.7px;font-size:12.8px;transform:translate(-50%,-50%);color:#1c1c1c;">141</div>
<div class="t" style="left:884.8px;top:746.7px;font-size:12.8px;transform:translate(-50%,-50%);color:#1c1c1c;">0,17</div>
<div class="t" style="left:722.3px;top:765px;font-size:12.8px;transform:translate(0,-50%);color:#1c1c1c;">Gualmatán</div>
<div class="t" style="left:837.2px;top:765px;font-size:12.8px;transform:translate(-50%,-50%);color:#1c1c1c;">140</div>
<div class="t" style="left:884.8px;top:765px;font-size:12.8px;transform:translate(-50%,-50%);color:#1c1c1c;">0,17</div>
<div class="t" style="left:722.3px;top:783.3px;font-size:12.8px;transform:translate(0,-50%);color:#1c1c1c;">La Tola</div>
<div class="t" style="left:837.2px;top:783.3px;font-size:12.8px;transform:translate(-50%,-50%);color:#1c1c1c;">136</div>
<div class="t" style="left:884.8px;top:783.3px;font-size:12.8px;transform:translate(-50%,-50%);color:#1c1c1c;">0,16</div>
<div class="t" style="left:722.3px;top:801.7px;font-size:12.8px;transform:translate(0,-50%);color:#1c1c1c;">Ancuya</div>
<div class="t" style="left:837.2px;top:801.7px;font-size:12.8px;transform:translate(-50%,-50%);color:#1c1c1c;">123</div>
<div class="t" style="left:884.8px;top:801.7px;font-size:12.8px;transform:translate(-50%,-50%);color:#1c1c1c;">0,15</div>
<div class="t" style="left:722.3px;top:820px;font-size:12.8px;transform:translate(0,-50%);color:#1c1c1c;">Fco Pizarro</div>
<div class="t" style="left:837.2px;top:820px;font-size:12.8px;transform:translate(-50%,-50%);color:#1c1c1c;">91</div>
<div class="t" style="left:884.8px;top:820px;font-size:12.8px;transform:translate(-50%,-50%);color:#1c1c1c;">0,11</div>
<div class="t" style="left:722.3px;top:838.3px;font-size:12.8px;transform:translate(0,-50%);color:#1c1c1c;">Sta Bárbara</div>
<div class="t" style="left:837.2px;top:838.3px;font-size:12.8px;transform:translate(-50%,-50%);color:#1c1c1c;">90</div>
<div class="t" style="left:884.8px;top:838.3px;font-size:12.8px;transform:translate(-50%,-50%);color:#1c1c1c;">0,11</div>
<div class="t" style="left:722.3px;top:856.6px;font-size:12.8px;transform:translate(0,-50%);color:#1c1c1c;">Roberto Payán</div>
<div class="t" style="left:837.2px;top:856.6px;font-size:12.8px;transform:translate(-50%,-50%);color:#1c1c1c;">78</div>
<div class="t" style="left:884.8px;top:856.6px;font-size:12.8px;transform:translate(-50%,-50%);color:#1c1c1c;">0,09</div>
<div class="t" style="left:722.3px;top:875px;font-size:12.8px;transform:translate(0,-50%);color:#1c1c1c;">Providencia</div>
<div class="t" style="left:837.2px;top:875px;font-size:12.8px;transform:translate(-50%,-50%);color:#1c1c1c;">60</div>
<div class="t" style="left:884.8px;top:875px;font-size:12.8px;transform:translate(-50%,-50%);color:#1c1c1c;">0,07</div>
<div class="t" style="left:767px;top:902.5px;font-size:12.4px;transform:translate(-50%,-50%);font-weight:700;color:#111;">TOTAL</div>
<div class="t" style="left:837.2px;top:902.5px;font-size:12.4px;transform:translate(-50%,-50%);font-weight:700;color:#111;">84.270</div>
<div class="t" style="left:884.8px;top:902.5px;font-size:12.4px;transform:translate(-50%,-50%);font-weight:700;color:#111;">100%</div>
<!-- bars -->
<div class="t" style="left:620.8px;top:944px;font-size:12.2px;transform:translate(-50%,-50%);font-weight:700;color:#111;">Casos COVID 19  según edad</div>
<svg class="abs" style="left:0;top:960px" width="989" height="180" viewBox="0 960 989 180">
<g stroke="#d9d9d9" stroke-width="1">
<line x1="430.6" y1="1130.6" x2="872.0" y2="1130.6"/>
<line x1="430.6" y1="1098.9" x2="872.0" y2="1098.9"/>
<line x1="430.6" y1="1067.3" x2="872.0" y2="1067.3"/>
<line x1="430.6" y1="1035.6" x2="872.0" y2="1035.6"/>
<line x1="430.6" y1="1004" x2="872.0" y2="1004"/>
<line x1="430.6" y1="972.3" x2="872.0" y2="972.3"/>
</g>
<rect x="448.1" y="1120" width="15.2" height="10.6" fill="#a9d18e"/>
<rect x="496.9" y="1096.4" width="15.2" height="34.2" fill="#a9d18e"/>
<rect x="546.2" y="1024.3" width="15.2" height="106.3" fill="#a9d18e"/>
<rect x="595" y="1006.9" width="15.2" height="123.7" fill="#a9d18e"/>
<rect x="644.3" y="1033.4" width="15.2" height="97.2" fill="#a9d18e"/>
<rect x="693.1" y="1051.6" width="15.2" height="79" fill="#a9d18e"/>
<rect x="742.4" y="1086.2" width="15.2" height="44.4" fill="#a9d18e"/>
<rect x="791.1" y="1106.3" width="15.2" height="24.3" fill="#a9d18e"/>
<rect x="840.4" y="1116.8" width="15.2" height="13.8" fill="#a9d18e"/>
</svg>
<div class="t" style="left:419.5px;top:1131.2px;font-size:11.6px;transform:translate(-100%,-50%);color:#262626;">0</div>
<div class="t" style="left:419.5px;top:1099.5px;font-size:11.6px;transform:translate(-100%,-50%);color:#262626;">5000</div>
<div class="t" style="left:419.5px;top:1067.9px;font-size:11.6px;transform:translate(-100%,-50%);color:#262626;">10000</div>
<div class="t" style="left:419.5px;top:1036.2px;font-size:11.6px;transform:translate(-100%,-50%);color:#262626;">15000</div>
<div class="t" style="left:419.5px;top:1004.6px;font-size:11.6px;transform:translate(-100%,-50%);color:#262626;">20000</div>
<div class="t" style="left:419.5px;top:972.9px;font-size:11.6px;transform:translate(-100%,-50%);color:#262626;">25000</div>
<div class="t" style="left:456.2px;top:1106px;font-size:11.6px;transform:translate(-50%,-50%);color:#262626;">1667</div>
<div class="t" style="left:505px;top:1082.4px;font-size:11.6px;transform:translate(-50%,-50%);color:#262626;">5402</div>
<div class="t" style="left:554.3px;top:1010.3px;font-size:11.6px;transform:translate(-50%,-50%);color:#262626;">16794</div>
<div class="t" style="left:603.1px;top:992.9px;font-size:11.6px;transform:translate(-50%,-50%);color:#262626;">19538</div>
<div class="t" style="left:652.4px;top:1019.4px;font-size:11.6px;transform:translate(-50%,-50%);color:#262626;">15357</div>
<div class="t" style="left:701.2px;top:1037.6px;font-size:11.6px;transform:translate(-50%,-50%);color:#262626;">12473</div>
<div class="t" style="left:750.5px;top:1072.2px;font-size:11.6px;transform:translate(-50%,-50%);color:#262626;">7019</div>
<div class="t" style="left:799.2px;top:1092.3px;font-size:11.6px;transform:translate(-50%,-50%);color:#262626;">3841</div>
<div class="t" style="left:848.5px;top:1102.8px;font-size:11.6px;transform:translate(-50%,-50%);color:#262626;">2179</div>
<div class="t" style="left:456.5px;top:1147.8px;font-size:11.6px;transform:translate(-50%,-50%);color:#262626;">0 a 9</div>
<div class="t" style="left:505.3px;top:1147.8px;font-size:11.6px;transform:translate(-50%,-50%);color:#262626;">10 a 19</div>
<div class="t" style="left:554.6px;top:1147.8px;font-size:11.6px;transform:translate(-50%,-50%);color:#262626;">20 a 29</div>
<div class="t" style="left:603.4px;top:1147.8px;font-size:11.6px;transform:translate(-50%,-50%);color:#262626;">30 a 39</div>
<div class="t" style="left:652.7px;top:1147.8px;font-size:11.6px;transform:translate(-50%,-50%);color:#262626;">40 a 49</div>
<div class="t" style="left:701.5px;top:1147.8px;font-size:11.6px;transform:translate(-50%,-50%);color:#262626;">50 a 59</div>
<div class="t" style="left:750.8px;top:1147.8px;font-size:11.6px;transform:translate(-50%,-50%);color:#262626;">60 a 69</div>
<div class="t" style="left:799.5px;top:1147.8px;font-size:11.6px;transform:translate(-50%,-50%);color:#262626;">70 a 79</div>
<div class="t" style="left:848.8px;top:1147.8px;font-size:11.6px;transform:translate(-50%,-50%);color:#262626;">80 y mas</div>
<!-- footer -->
<div class="t" style="left:98.8px;top:1177.1px;font-size:10px;transform:translate(0,-50%);color:#4a4a4a;letter-spacing:0.02px;">Fuente : Instituto Departamental  de Salud de Nariño, Oficina de Epidemiología SIVIGILA,CRUE,  julio 17 de 2021 / 16:00  horas.</div>
<div class="t" style="left:98.8px;top:1188px;font-size:10px;transform:translate(0,-50%);color:#4a4a4a;letter-spacing:0.17px;">La información departamental  presentada diariamente puede estar sujeta a ajustes posteriores a  rectificación de la ficha, investigaciones de campo o unidades de análisis.</div>
</div></div>
</body></html>
